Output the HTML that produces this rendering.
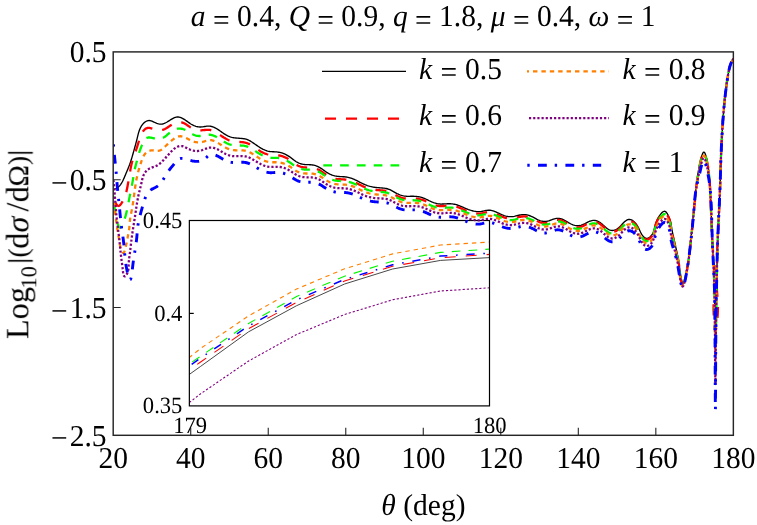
<!DOCTYPE html>
<html><head><meta charset="utf-8"><title>plot</title>
<style>html,body{margin:0;padding:0;background:#fff;overflow:hidden;}svg{display:block;}text{font-family:"Liberation Serif",serif;fill:#000;text-rendering:geometricPrecision;}.i{font-style:italic;}</style></head><body>
<svg width="757" height="525" viewBox="0 0 757 525">
<rect x="0" y="0" width="757" height="525" fill="#fff"/>
<clipPath id="ci"><rect x="189.35" y="220.5" width="300.15" height="185.39999999999998"/></clipPath>
<g clip-path="url(#ci)" fill="none" stroke-linecap="butt" stroke-linejoin="round">
<path d="M189.35,374.40 L200.60,366.40 L248.60,331.80 L296.60,305.70 L344.60,284.00 L392.60,269.00 L440.60,260.40 L489.50,257.60" stroke="#333" stroke-width="0.9"/>
<path d="M189.35,369.80 L200.60,362.00 L248.60,328.60 L296.60,302.40 L344.60,281.00 L392.60,266.30 L440.60,257.80 L489.50,254.40" stroke="#ff0000" stroke-width="1.1" stroke-dasharray="11 10" stroke-dashoffset="11.5"/>
<path d="M189.35,363.90 L200.60,356.20 L248.60,323.40 L296.60,296.50 L344.60,276.20 L392.60,261.20 L440.60,252.40 L489.50,249.10" stroke="#00f600" stroke-width="1.1" stroke-dasharray="8.7 8.1" stroke-dashoffset="13.2"/>
<path d="M189.35,357.50 L200.60,348.40 L248.60,315.90 L296.60,289.00 L344.60,268.80 L392.60,253.90 L440.60,245.00 L489.50,242.10" stroke="#ff8000" stroke-width="1.1" stroke-dasharray="4.4 4" stroke-dashoffset="0.82"/>
<path d="M189.35,402.50 L200.60,393.80 L248.60,361.00 L296.60,334.50 L344.60,314.50 L392.60,299.80 L440.60,291.00 L489.50,287.80" stroke="#800080" stroke-width="1.1" stroke-dasharray="2.2 1.97" stroke-dashoffset="0"/>
<path d="M189.35,365.90 L200.60,358.00 L248.60,326.00 L296.60,299.80 L344.60,279.40 L392.60,264.80 L440.60,256.10 L489.50,253.20" stroke="#0000ff" stroke-width="1.5" stroke-dasharray="8.2 8.7 1.6 8.8" stroke-dashoffset="24.48"/>
</g>
<rect x="189.35" y="220.5" width="300.15" height="185.39999999999998" fill="none" stroke="#000" stroke-width="1.2"/>
<path d="M189.35,313.4 h4.4" stroke="#000" stroke-width="1.2"/>
<clipPath id="cm"><rect x="113.2" y="51.9" width="620.15" height="383.40000000000003"/></clipPath>
<g clip-path="url(#cm)" fill="none" stroke-linecap="butt" stroke-linejoin="round">
<path d="M113.30,189.50 L114.27,189.26 L115.22,188.94 L116.14,188.53 L117.02,188.04 L117.86,187.48 L118.63,186.84 L119.35,186.14 L120.00,185.39 L120.60,184.58 L121.16,183.74 L121.68,182.88 L122.17,182.00 L122.63,181.10 L123.08,180.21 L123.51,179.30 L123.93,178.39 L124.33,177.48 L124.72,176.56 L125.11,175.63 L125.50,174.71 L125.88,173.79 L126.27,172.86 L126.65,171.94 L127.04,171.02 L127.42,170.09 L127.80,169.17 L128.18,168.24 L128.56,167.31 L128.92,166.38 L129.28,165.44 L129.64,164.51 L129.98,163.56 L130.31,162.62 L130.63,161.67 L130.94,160.72 L131.24,159.76 L131.54,158.81 L131.83,157.85 L132.11,156.89 L132.39,155.93 L132.66,154.96 L132.94,154.00 L133.21,153.04 L133.48,152.07 L133.75,151.11 L134.02,150.15 L134.29,149.19 L134.56,148.22 L134.83,147.26 L135.09,146.30 L135.36,145.34 L135.62,144.37 L135.88,143.40 L136.13,142.43 L136.39,141.46 L136.63,140.49 L136.88,139.51 L137.11,138.53 L137.35,137.55 L137.58,136.57 L137.82,135.58 L138.07,134.60 L138.33,133.63 L138.60,132.66 L138.90,131.70 L139.21,130.76 L139.56,129.82 L139.94,128.90 L140.35,127.99 L140.80,127.11 L141.30,126.24 L141.84,125.40 L142.44,124.59 L143.08,123.82 L143.79,123.09 L144.56,122.41 L145.39,121.79 L146.28,121.25 L147.21,120.83 L148.15,120.56 L149.11,120.48 L150.07,120.58 L151.03,120.82 L151.99,121.18 L152.95,121.60 L153.91,122.06 L154.87,122.51 L155.83,122.95 L156.79,123.34 L157.75,123.68 L158.70,123.95 L159.65,124.13 L160.60,124.20 L161.55,124.15 L162.49,123.99 L163.42,123.73 L164.35,123.39 L165.28,122.97 L166.21,122.49 L167.13,121.97 L168.05,121.41 L168.97,120.83 L169.88,120.24 L170.79,119.66 L171.70,119.11 L172.62,118.59 L173.53,118.11 L174.45,117.71 L175.37,117.38 L176.30,117.14 L177.23,117.01 L178.17,117.01 L179.11,117.13 L180.06,117.37 L181.01,117.70 L181.95,118.11 L182.87,118.59 L183.78,119.12 L184.67,119.68 L185.53,120.25 L186.37,120.84 L187.19,121.42 L188.01,122.01 L188.82,122.59 L189.63,123.15 L190.45,123.70 L191.29,124.22 L192.15,124.71 L193.04,125.17 L193.95,125.59 L194.89,125.96 L195.86,126.28 L196.84,126.55 L197.83,126.76 L198.83,126.91 L199.84,126.99 L200.84,127.00 L201.85,126.93 L202.85,126.82 L203.85,126.66 L204.84,126.50 L205.84,126.34 L206.83,126.20 L207.82,126.11 L208.81,126.08 L209.80,126.14 L210.78,126.29 L211.76,126.51 L212.72,126.81 L213.67,127.17 L214.61,127.58 L215.52,128.04 L216.41,128.53 L217.27,129.05 L218.11,129.59 L218.94,130.15 L219.76,130.72 L220.57,131.30 L221.38,131.89 L222.20,132.47 L223.02,133.04 L223.85,133.60 L224.70,134.14 L225.56,134.67 L226.44,135.17 L227.34,135.63 L228.25,136.07 L229.17,136.47 L230.11,136.83 L231.06,137.14 L232.02,137.40 L232.99,137.62 L233.97,137.79 L234.95,137.92 L235.95,138.02 L236.95,138.10 L237.96,138.17 L238.96,138.23 L239.97,138.30 L240.99,138.37 L241.99,138.46 L242.99,138.58 L243.99,138.73 L244.97,138.92 L245.93,139.16 L246.88,139.46 L247.81,139.82 L248.72,140.23 L249.61,140.69 L250.48,141.18 L251.35,141.71 L252.20,142.26 L253.04,142.82 L253.87,143.39 L254.69,143.96 L255.52,144.54 L256.34,145.11 L257.16,145.67 L257.99,146.23 L258.82,146.78 L259.66,147.32 L260.52,147.84 L261.39,148.35 L262.27,148.83 L263.17,149.30 L264.08,149.73 L265.01,150.13 L265.95,150.49 L266.90,150.81 L267.87,151.09 L268.84,151.31 L269.82,151.48 L270.81,151.60 L271.80,151.69 L272.80,151.74 L273.81,151.78 L274.81,151.83 L275.81,151.88 L276.82,151.95 L277.81,152.06 L278.81,152.21 L279.80,152.40 L280.77,152.63 L281.74,152.90 L282.70,153.21 L283.64,153.56 L284.56,153.94 L285.47,154.36 L286.37,154.81 L287.25,155.30 L288.11,155.81 L288.96,156.35 L289.79,156.92 L290.60,157.50 L291.41,158.11 L292.20,158.73 L292.98,159.36 L293.77,159.98 L294.57,160.58 L295.38,161.16 L296.22,161.71 L297.08,162.21 L297.97,162.67 L298.89,163.08 L299.84,163.44 L300.80,163.74 L301.77,164.00 L302.76,164.21 L303.75,164.36 L304.75,164.47 L305.75,164.55 L306.75,164.60 L307.75,164.63 L308.76,164.67 L309.76,164.71 L310.76,164.77 L311.75,164.87 L312.74,165.01 L313.73,165.20 L314.70,165.44 L315.67,165.72 L316.62,166.06 L317.55,166.44 L318.46,166.87 L319.35,167.33 L320.22,167.83 L321.06,168.36 L321.89,168.92 L322.71,169.49 L323.52,170.08 L324.33,170.67 L325.15,171.25 L325.97,171.83 L326.81,172.39 L327.66,172.92 L328.53,173.43 L329.42,173.90 L330.33,174.34 L331.26,174.75 L332.20,175.11 L333.15,175.44 L334.11,175.72 L335.08,175.95 L336.06,176.14 L337.05,176.29 L338.04,176.40 L339.04,176.48 L340.04,176.55 L341.04,176.60 L342.04,176.66 L343.05,176.72 L344.05,176.79 L345.05,176.88 L346.04,177.01 L347.03,177.17 L348.02,177.36 L348.99,177.59 L349.96,177.85 L350.92,178.14 L351.88,178.47 L352.82,178.82 L353.75,179.19 L354.67,179.59 L355.57,180.02 L356.47,180.45 L357.36,180.90 L358.25,181.36 L359.14,181.83 L360.03,182.29 L360.92,182.75 L361.81,183.21 L362.72,183.65 L363.63,184.07 L364.55,184.48 L365.47,184.87 L366.41,185.24 L367.35,185.59 L368.30,185.91 L369.25,186.20 L370.22,186.46 L371.19,186.68 L372.16,186.88 L373.14,187.06 L374.13,187.21 L375.12,187.34 L376.12,187.46 L377.12,187.56 L378.12,187.65 L379.13,187.73 L380.14,187.81 L381.15,187.89 L382.16,187.97 L383.17,188.07 L384.17,188.19 L385.16,188.33 L386.14,188.51 L387.11,188.74 L388.05,189.02 L388.98,189.35 L389.90,189.73 L390.80,190.15 L391.69,190.61 L392.57,191.08 L393.45,191.58 L394.33,192.08 L395.22,192.57 L396.11,193.06 L397.01,193.53 L397.93,193.98 L398.85,194.40 L399.78,194.78 L400.72,195.13 L401.67,195.45 L402.63,195.71 L403.60,195.93 L404.58,196.09 L405.56,196.20 L406.55,196.27 L407.55,196.30 L408.55,196.31 L409.55,196.30 L410.56,196.28 L411.57,196.27 L412.58,196.26 L413.59,196.26 L414.60,196.30 L415.60,196.36 L416.61,196.46 L417.61,196.59 L418.60,196.76 L419.59,196.96 L420.57,197.19 L421.53,197.46 L422.49,197.75 L423.44,198.08 L424.37,198.45 L425.29,198.84 L426.20,199.25 L427.10,199.68 L428.00,200.12 L428.89,200.57 L429.80,201.00 L430.70,201.43 L431.62,201.84 L432.55,202.22 L433.50,202.58 L434.45,202.91 L435.42,203.19 L436.40,203.45 L437.38,203.66 L438.37,203.83 L439.36,203.95 L440.35,204.02 L441.35,204.05 L442.35,204.03 L443.35,203.99 L444.35,203.93 L445.35,203.87 L446.35,203.80 L447.36,203.74 L448.36,203.71 L449.36,203.70 L450.37,203.73 L451.37,203.80 L452.37,203.91 L453.36,204.06 L454.35,204.24 L455.34,204.45 L456.31,204.70 L457.27,204.99 L458.22,205.31 L459.16,205.65 L460.09,206.02 L461.01,206.41 L461.93,206.81 L462.84,207.22 L463.76,207.63 L464.68,208.03 L465.60,208.43 L466.52,208.81 L467.46,209.18 L468.39,209.53 L469.34,209.86 L470.29,210.18 L471.25,210.47 L472.22,210.73 L473.19,210.97 L474.18,211.19 L475.17,211.37 L476.17,211.51 L477.17,211.61 L478.17,211.66 L479.17,211.65 L480.17,211.58 L481.17,211.45 L482.16,211.28 L483.15,211.07 L484.14,210.85 L485.12,210.64 L486.11,210.45 L487.09,210.31 L488.08,210.22 L489.06,210.20 L490.05,210.27 L491.03,210.42 L492.01,210.63 L492.99,210.89 L493.95,211.21 L494.91,211.56 L495.86,211.94 L496.80,212.34 L497.73,212.76 L498.64,213.18 L499.55,213.61 L500.46,214.02 L501.37,214.43 L502.29,214.82 L503.21,215.18 L504.15,215.52 L505.11,215.82 L506.08,216.09 L507.07,216.31 L508.07,216.48 L509.07,216.61 L510.08,216.68 L511.09,216.70 L512.09,216.66 L513.08,216.55 L514.06,216.39 L515.04,216.19 L516.01,215.96 L516.99,215.71 L517.96,215.46 L518.94,215.23 L519.92,215.02 L520.91,214.84 L521.91,214.72 L522.92,214.65 L523.92,214.63 L524.92,214.67 L525.91,214.77 L526.89,214.94 L527.87,215.16 L528.83,215.43 L529.79,215.75 L530.73,216.12 L531.66,216.51 L532.58,216.94 L533.50,217.40 L534.40,217.88 L535.29,218.36 L536.18,218.84 L537.07,219.31 L537.97,219.76 L538.88,220.17 L539.80,220.54 L540.74,220.85 L541.70,221.09 L542.68,221.26 L543.68,221.37 L544.69,221.39 L545.71,221.35 L546.72,221.24 L547.72,221.06 L548.71,220.82 L549.69,220.51 L550.65,220.17 L551.61,219.82 L552.56,219.46 L553.51,219.12 L554.46,218.81 L555.41,218.56 L556.38,218.39 L557.35,218.30 L558.33,218.31 L559.31,218.43 L560.30,218.63 L561.28,218.90 L562.25,219.24 L563.20,219.63 L564.13,220.06 L565.03,220.53 L565.91,221.02 L566.77,221.53 L567.63,222.04 L568.48,222.55 L569.34,223.05 L570.22,223.53 L571.11,223.99 L572.02,224.41 L572.97,224.79 L573.94,225.11 L574.92,225.38 L575.92,225.57 L576.92,225.69 L577.92,225.73 L578.90,225.68 L579.87,225.54 L580.83,225.31 L581.77,225.01 L582.71,224.65 L583.64,224.24 L584.56,223.80 L585.48,223.33 L586.40,222.86 L587.32,222.38 L588.24,221.92 L589.17,221.49 L590.11,221.11 L591.06,220.79 L592.02,220.56 L592.99,220.42 L593.99,220.40 L594.99,220.49 L595.99,220.68 L596.97,220.96 L597.92,221.33 L598.83,221.77 L599.68,222.27 L600.50,222.82 L601.28,223.42 L602.04,224.05 L602.79,224.72 L603.53,225.40 L604.29,226.09 L605.06,226.78 L605.85,227.47 L606.68,228.14 L607.53,228.76 L608.41,229.32 L609.31,229.79 L610.23,230.16 L611.18,230.41 L612.13,230.50 L613.10,230.45 L614.08,230.25 L615.04,229.93 L615.99,229.50 L616.91,228.99 L617.78,228.41 L618.61,227.77 L619.38,227.11 L620.10,226.42 L620.78,225.72 L621.45,224.99 L622.11,224.26 L622.79,223.53 L623.50,222.79 L624.25,222.06 L625.06,221.35 L625.90,220.70 L626.79,220.15 L627.70,219.72 L628.63,219.46 L629.58,219.41 L630.53,219.57 L631.46,219.91 L632.37,220.40 L633.25,221.01 L634.07,221.70 L634.82,222.43 L635.51,223.17 L636.12,223.94 L636.69,224.72 L637.21,225.53 L637.70,226.36 L638.16,227.22 L638.61,228.11 L639.06,229.04 L639.52,230.00 L640.00,231.00 L640.50,232.03 L641.04,233.07 L641.62,234.10 L642.23,235.08 L642.87,235.98 L643.56,236.77 L644.30,237.43 L645.08,237.93 L645.91,238.22 L646.79,238.30 L647.71,238.13 L648.65,237.76 L649.56,237.22 L650.41,236.57 L651.16,235.82 L651.81,235.02 L652.36,234.17 L652.83,233.27 L653.22,232.34 L653.57,231.38 L653.86,230.41 L654.12,229.42 L654.36,228.44 L654.59,227.46 L654.82,226.50 L655.06,225.56 L655.32,224.64 L655.59,223.72 L655.89,222.82 L656.22,221.92 L656.57,221.03 L656.97,220.14 L657.40,219.24 L657.87,218.34 L658.40,217.42 L658.97,216.50 L659.60,215.56 L660.30,214.60 L661.04,213.65 L661.83,212.78 L662.64,212.05 L663.46,211.53 L664.26,211.29 L665.04,211.39 L665.78,211.84 L666.47,212.56 L667.12,213.46 L667.72,214.47 L668.26,215.50 L668.74,216.52 L669.17,217.52 L669.55,218.51 L669.89,219.49 L670.18,220.45 L670.45,221.41 L670.68,222.36 L670.89,223.31 L671.08,224.25 L671.26,225.20 L671.42,226.14 L671.57,227.09 L671.73,228.04 L671.88,229.00 L672.05,229.97 L672.22,230.94 L672.40,231.92 L672.59,232.91 L672.79,233.91 L672.99,234.91 L673.20,235.91 L673.41,236.90 L673.63,237.90 L673.85,238.90 L674.08,239.89 L674.30,240.87 L674.53,241.85 L674.75,242.82 L674.98,243.77 L675.20,244.72 L675.42,245.65 L675.63,246.57 L675.84,247.47 L676.05,248.36 L676.26,249.25 L676.46,250.13 L676.65,251.01 L676.85,251.90 L677.04,252.79 L677.23,253.69 L677.42,254.61 L677.61,255.54 L677.79,256.49 L677.98,257.46 L678.16,258.46 L678.35,259.50 L678.53,260.56 L678.71,261.66 L678.89,262.80 L679.08,263.99 L679.26,265.22 L679.44,266.50 L679.63,267.82 L679.82,269.17 L680.01,270.52 L680.20,271.88 L680.39,273.21 L680.59,274.52 L680.79,275.78 L680.99,276.97 L681.20,278.10 L681.41,279.13 L681.63,280.06 L681.85,280.88 L682.08,281.56 L682.31,282.10 L682.55,282.47 L682.80,282.67 L683.05,282.69 L683.31,282.50 L683.58,282.14 L683.85,281.61 L684.12,280.93 L684.39,280.12 L684.67,279.18 L684.95,278.15 L685.22,277.02 L685.49,275.82 L685.76,274.57 L686.02,273.28 L686.28,271.96 L686.53,270.63 L686.77,269.31 L687.00,268.02 L687.22,266.75 L687.43,265.52 L687.62,264.33 L687.81,263.17 L687.99,262.04 L688.17,260.94 L688.33,259.86 L688.48,258.81 L688.63,257.79 L688.77,256.78 L688.91,255.80 L689.04,254.83 L689.16,253.89 L689.28,252.95 L689.39,252.03 L689.50,251.12 L689.61,250.21 L689.71,249.32 L689.81,248.43 L689.91,247.54 L690.01,246.66 L690.10,245.77 L690.20,244.88 L690.29,243.99 L690.38,243.10 L690.48,242.20 L690.58,241.28 L690.67,240.36 L690.77,239.43 L690.87,238.50 L690.97,237.55 L691.07,236.60 L691.17,235.63 L691.27,234.67 L691.37,233.69 L691.48,232.71 L691.58,231.72 L691.69,230.73 L691.79,229.73 L691.90,228.72 L692.00,227.71 L692.11,226.70 L692.21,225.68 L692.32,224.66 L692.42,223.63 L692.53,222.60 L692.64,221.57 L692.74,220.54 L692.85,219.50 L692.95,218.46 L693.06,217.42 L693.16,216.38 L693.27,215.34 L693.37,214.30 L693.47,213.26 L693.58,212.22 L693.68,211.18 L693.78,210.14 L693.88,209.10 L693.98,208.06 L694.08,207.02 L694.18,205.99 L694.28,204.96 L694.38,203.94 L694.48,202.92 L694.58,201.90 L694.68,200.88 L694.78,199.88 L694.88,198.87 L694.98,197.88 L695.08,196.88 L695.17,195.90 L695.27,194.92 L695.37,193.95 L695.47,192.99 L695.57,192.03 L695.66,191.09 L695.76,190.15 L695.86,189.22 L695.96,188.30 L696.06,187.39 L696.16,186.49 L696.25,185.60 L696.35,184.72 L696.46,183.84 L696.56,182.97 L696.67,182.10 L696.78,181.22 L696.89,180.34 L697.01,179.45 L697.14,178.56 L697.27,177.65 L697.40,176.74 L697.55,175.80 L697.70,174.85 L697.86,173.88 L698.03,172.89 L698.21,171.88 L698.40,170.84 L698.61,169.77 L698.82,168.67 L699.04,167.54 L699.28,166.37 L699.53,165.17 L699.80,163.92 L700.08,162.64 L700.37,161.32 L700.68,159.99 L701.00,158.68 L701.33,157.42 L701.67,156.23 L702.02,155.14 L702.37,154.17 L702.72,153.36 L703.08,152.73 L703.44,152.30 L703.80,152.11 L704.15,152.17 L704.51,152.49 L704.86,153.02 L705.20,153.75 L705.53,154.65 L705.86,155.69 L706.17,156.84 L706.48,158.07 L706.77,159.37 L707.05,160.69 L707.31,162.02 L707.56,163.32 L707.79,164.58 L708.00,165.80 L708.20,166.98 L708.38,168.13 L708.55,169.24 L708.71,170.32 L708.85,171.37 L708.98,172.39 L709.10,173.38 L709.21,174.36 L709.31,175.31 L709.40,176.25 L709.48,177.17 L709.56,178.08 L709.62,178.98 L709.69,179.87 L709.74,180.75 L709.80,181.63 L709.85,182.52 L709.90,183.40 L709.94,184.28 L709.98,185.17 L710.03,186.07 L710.07,186.98 L710.11,187.90 L710.16,188.83 L710.20,189.77 L710.24,190.71 L710.28,191.66 L710.33,192.62 L710.37,193.59 L710.41,194.56 L710.45,195.54 L710.49,196.52 L710.53,197.51 L710.58,198.51 L710.62,199.51 L710.66,200.52 L710.70,201.53 L710.74,202.54 L710.78,203.56 L710.82,204.58 L710.86,205.61 L710.91,206.64 L710.95,207.67 L710.99,208.70 L711.03,209.74 L711.07,210.77 L711.11,211.81 L711.15,212.85 L711.19,213.89 L711.23,214.93 L711.27,215.97 L711.32,217.01 L711.36,218.05 L711.40,219.09 L711.44,220.13 L711.48,221.17 L711.52,222.20 L711.57,223.23 L711.61,224.26 L711.65,225.29 L711.69,226.31 L711.74,227.33 L711.78,228.35 L711.82,229.36 L711.86,230.37 L711.91,231.37 L711.95,232.37 L711.99,233.37 L712.04,234.35 L712.08,235.34 L712.13,236.31 L712.17,237.28 L712.22,238.24 L712.26,239.20 L712.31,240.14 L712.35,241.08 L712.40,242.02 L712.44,242.94 L712.49,243.86 L712.54,244.78 L712.58,245.69 L712.63,246.60 L712.68,247.50 L712.73,248.41 L712.77,249.31 L712.82,250.21 L712.87,251.11 L712.92,252.01 L712.96,252.91 L713.01,253.81 L713.06,254.72 L713.10,255.63 L713.15,256.54 L713.20,257.46 L713.25,258.38 L713.29,259.31 L713.34,260.25 L713.39,261.19 L713.43,262.15 L713.48,263.11 L713.52,264.08 L713.57,265.06 L713.61,266.05 L713.66,267.05 L713.70,268.06 L713.75,269.09 L713.79,270.13 L713.83,271.19 L713.87,272.26 L713.92,273.34 L713.96,274.44 L714.00,275.56 L714.04,276.70 L714.08,277.85 L714.12,279.03 L714.16,280.22 L714.20,281.44 L714.23,282.67 L714.27,283.93 L714.31,285.21 L714.34,286.51 L714.38,287.83 L714.41,289.17 L714.44,290.52 L714.48,291.88 L714.51,293.25 L714.54,294.62 L714.57,295.99 L714.60,297.36 L714.63,298.72 L714.66,300.08 L714.69,301.42 L714.72,302.75 L714.75,304.06 L714.78,305.35 L714.81,306.61 L714.84,307.85 L714.86,309.05 L714.89,310.23 L714.92,311.36 L714.95,312.46 L714.97,313.51 L715.00,314.52 L715.03,315.47 L715.06,316.38 L715.09,317.23 L715.11,318.02 L715.14,318.74 L715.17,319.41 L715.20,320.00 L715.23,320.53 L715.26,320.98 L715.29,321.35 L715.31,321.64 L715.34,321.85 L715.38,321.97 L715.41,322.00 L715.44,321.94 L715.47,321.79 L715.50,321.55 L715.53,321.24 L715.57,320.84 L715.60,320.36 L715.63,319.82 L715.67,319.20 L715.70,318.51 L715.73,317.77 L715.77,316.96 L715.80,316.09 L715.84,315.17 L715.87,314.19 L715.90,313.17 L715.94,312.11 L715.97,311.00 L716.01,309.85 L716.04,308.66 L716.08,307.45 L716.11,306.20 L716.14,304.92 L716.18,303.63 L716.21,302.31 L716.24,300.97 L716.28,299.62 L716.31,298.26 L716.34,296.89 L716.37,295.52 L716.40,294.14 L716.43,292.77 L716.46,291.40 L716.49,290.04 L716.52,288.69 L716.55,287.35 L716.58,286.03 L716.61,284.73 L716.63,283.45 L716.66,282.19 L716.68,280.95 L716.71,279.74 L716.73,278.54 L716.76,277.36 L716.78,276.20 L716.80,275.06 L716.83,273.94 L716.85,272.83 L716.87,271.74 L716.89,270.67 L716.91,269.61 L716.93,268.56 L716.96,267.53 L716.98,266.51 L717.00,265.50 L717.02,264.50 L717.04,263.52 L717.06,262.54 L717.08,261.58 L717.10,260.63 L717.12,259.68 L717.15,258.74 L717.17,257.81 L717.19,256.88 L717.21,255.97 L717.23,255.05 L717.26,254.14 L717.28,253.24 L717.31,252.34 L717.33,251.44 L717.35,250.55 L717.38,249.65 L717.41,248.76 L717.43,247.87 L717.46,246.98 L717.49,246.09 L717.52,245.19 L717.55,244.30 L717.58,243.40 L717.61,242.50 L717.64,241.59 L717.67,240.68 L717.71,239.77 L717.74,238.85 L717.78,237.92 L717.82,236.99 L717.85,236.06 L717.89,235.12 L717.93,234.17 L717.97,233.22 L718.01,232.27 L718.06,231.31 L718.10,230.34 L718.14,229.38 L718.19,228.40 L718.23,227.43 L718.27,226.45 L718.32,225.47 L718.37,224.48 L718.41,223.49 L718.46,222.50 L718.51,221.50 L718.55,220.50 L718.60,219.50 L718.65,218.50 L718.70,217.49 L718.74,216.48 L718.79,215.47 L718.84,214.45 L718.89,213.44 L718.94,212.42 L718.99,211.40 L719.03,210.38 L719.08,209.36 L719.13,208.33 L719.18,207.31 L719.23,206.28 L719.27,205.25 L719.32,204.23 L719.37,203.20 L719.42,202.17 L719.46,201.14 L719.51,200.11 L719.55,199.08 L719.60,198.05 L719.64,197.02 L719.69,195.99 L719.73,194.96 L719.77,193.93 L719.82,192.91 L719.86,191.88 L719.90,190.85 L719.94,189.83 L719.98,188.80 L720.02,187.78 L720.05,186.76 L720.09,185.74 L720.13,184.73 L720.16,183.71 L720.20,182.70 L720.23,181.68 L720.26,180.67 L720.29,179.66 L720.33,178.65 L720.36,177.65 L720.39,176.64 L720.42,175.64 L720.45,174.63 L720.48,173.63 L720.51,172.63 L720.53,171.63 L720.56,170.63 L720.59,169.63 L720.62,168.64 L720.65,167.64 L720.68,166.64 L720.71,165.65 L720.74,164.65 L720.77,163.65 L720.80,162.66 L720.83,161.66 L720.86,160.67 L720.90,159.68 L720.93,158.68 L720.96,157.69 L721.00,156.69 L721.03,155.70 L721.07,154.70 L721.11,153.71 L721.14,152.71 L721.18,151.71 L721.22,150.72 L721.27,149.72 L721.31,148.72 L721.35,147.72 L721.40,146.73 L721.44,145.73 L721.49,144.73 L721.54,143.73 L721.59,142.73 L721.64,141.73 L721.69,140.73 L721.74,139.73 L721.80,138.73 L721.85,137.73 L721.91,136.72 L721.96,135.72 L722.02,134.72 L722.08,133.72 L722.14,132.72 L722.20,131.72 L722.26,130.72 L722.32,129.72 L722.38,128.72 L722.44,127.72 L722.50,126.72 L722.57,125.72 L722.63,124.72 L722.70,123.72 L722.77,122.72 L722.84,121.72 L722.91,120.72 L722.98,119.73 L723.05,118.73 L723.12,117.73 L723.20,116.73 L723.27,115.73 L723.35,114.73 L723.43,113.74 L723.51,112.74 L723.59,111.74 L723.68,110.74 L723.76,109.75 L723.85,108.75 L723.94,107.75 L724.03,106.76 L724.12,105.76 L724.22,104.76 L724.31,103.77 L724.41,102.77 L724.51,101.77 L724.62,100.78 L724.72,99.78 L724.83,98.78 L724.94,97.79 L725.05,96.79 L725.17,95.80 L725.28,94.80 L725.40,93.81 L725.52,92.81 L725.65,91.82 L725.77,90.82 L725.90,89.83 L726.02,88.84 L726.15,87.85 L726.28,86.85 L726.42,85.86 L726.55,84.87 L726.68,83.88 L726.82,82.90 L726.96,81.91 L727.10,80.92 L727.25,79.93 L727.40,78.95 L727.55,77.96 L727.71,76.97 L727.87,75.98 L728.04,75.00 L728.22,74.01 L728.40,73.02 L728.59,72.03 L728.79,71.04 L728.99,70.05 L729.21,69.06 L729.44,68.08 L729.70,67.10 L729.97,66.13 L730.27,65.17 L730.60,64.22 L730.97,63.29 L731.38,62.38 L731.84,61.50 L732.34,60.64 L732.89,59.80 L733.50,59.00" stroke="#000000" stroke-width="1.35"/>
<path d="M113.30,193.00 L113.29,193.17 L113.34,193.68 L113.46,194.48 L113.64,195.50 L113.88,196.70 L114.18,198.01 L114.52,199.39 L114.93,200.77 L115.38,202.10 L115.88,203.32 L116.43,204.38 L117.02,205.21 L117.65,205.77 L118.32,206.00 L119.02,205.85 L119.75,205.36 L120.48,204.62 L121.19,203.71 L121.87,202.71 L122.48,201.71 L123.05,200.73 L123.56,199.77 L124.01,198.82 L124.43,197.89 L124.80,196.96 L125.14,196.04 L125.45,195.13 L125.72,194.22 L125.98,193.31 L126.21,192.39 L126.43,191.47 L126.64,190.55 L126.85,189.62 L127.05,188.67 L127.24,187.72 L127.43,186.76 L127.62,185.79 L127.80,184.81 L127.98,183.83 L128.16,182.84 L128.33,181.85 L128.51,180.86 L128.68,179.86 L128.85,178.86 L129.02,177.86 L129.18,176.85 L129.35,175.85 L129.52,174.84 L129.69,173.84 L129.86,172.84 L130.03,171.84 L130.20,170.85 L130.37,169.86 L130.55,168.87 L130.74,167.88 L130.93,166.90 L131.13,165.92 L131.35,164.95 L131.57,163.98 L131.81,163.01 L132.07,162.04 L132.34,161.08 L132.63,160.13 L132.93,159.17 L133.24,158.22 L133.56,157.27 L133.88,156.32 L134.21,155.38 L134.55,154.43 L134.88,153.49 L135.22,152.54 L135.55,151.60 L135.88,150.65 L136.20,149.70 L136.52,148.75 L136.83,147.80 L137.14,146.85 L137.44,145.89 L137.73,144.94 L138.03,143.98 L138.31,143.02 L138.60,142.06 L138.88,141.09 L139.16,140.13 L139.44,139.17 L139.74,138.21 L140.06,137.26 L140.40,136.32 L140.77,135.39 L141.18,134.47 L141.63,133.57 L142.13,132.69 L142.68,131.84 L143.30,131.00 L143.97,130.20 L144.72,129.47 L145.52,128.83 L146.38,128.33 L147.30,128.00 L148.27,127.87 L149.27,127.90 L150.29,128.06 L151.29,128.30 L152.28,128.57 L153.24,128.87 L154.19,129.16 L155.14,129.45 L156.10,129.70 L157.08,129.91 L158.08,130.07 L159.10,130.16 L160.12,130.17 L161.13,130.12 L162.13,129.98 L163.10,129.76 L164.02,129.45 L164.91,129.06 L165.78,128.60 L166.62,128.08 L167.46,127.53 L168.29,126.95 L169.13,126.36 L169.98,125.77 L170.87,125.20 L171.78,124.65 L172.71,124.13 L173.67,123.66 L174.64,123.24 L175.63,122.88 L176.62,122.58 L177.61,122.36 L178.59,122.21 L179.57,122.15 L180.53,122.19 L181.47,122.33 L182.39,122.58 L183.29,122.92 L184.17,123.33 L185.05,123.81 L185.91,124.33 L186.78,124.89 L187.64,125.47 L188.51,126.05 L189.38,126.62 L190.27,127.16 L191.18,127.67 L192.09,128.15 L193.03,128.58 L193.97,128.97 L194.92,129.31 L195.89,129.61 L196.86,129.85 L197.84,130.05 L198.83,130.19 L199.82,130.27 L200.82,130.30 L201.82,130.27 L202.83,130.20 L203.83,130.10 L204.84,130.00 L205.84,129.90 L206.84,129.84 L207.84,129.82 L208.83,129.85 L209.81,129.97 L210.79,130.17 L211.75,130.44 L212.70,130.78 L213.63,131.17 L214.55,131.61 L215.45,132.08 L216.33,132.58 L217.20,133.11 L218.04,133.65 L218.88,134.20 L219.70,134.76 L220.52,135.33 L221.34,135.89 L222.17,136.46 L223.00,137.01 L223.84,137.56 L224.70,138.09 L225.57,138.60 L226.46,139.08 L227.36,139.54 L228.28,139.96 L229.21,140.35 L230.15,140.69 L231.10,140.99 L232.06,141.24 L233.03,141.44 L234.02,141.59 L235.01,141.71 L236.01,141.79 L237.01,141.85 L238.01,141.91 L239.02,141.95 L240.04,142.00 L241.05,142.06 L242.06,142.14 L243.06,142.25 L244.05,142.39 L245.03,142.58 L246.00,142.81 L246.95,143.11 L247.88,143.46 L248.79,143.87 L249.68,144.32 L250.56,144.81 L251.43,145.33 L252.28,145.87 L253.13,146.43 L253.96,147.00 L254.79,147.56 L255.62,148.13 L256.44,148.69 L257.27,149.25 L258.10,149.80 L258.94,150.35 L259.79,150.87 L260.65,151.39 L261.53,151.88 L262.42,152.36 L263.32,152.80 L264.24,153.22 L265.18,153.61 L266.12,153.95 L267.08,154.26 L268.05,154.51 L269.03,154.72 L270.01,154.87 L271.00,154.97 L272.00,155.03 L273.00,155.07 L274.00,155.10 L275.01,155.13 L276.01,155.17 L277.01,155.24 L278.01,155.35 L279.01,155.49 L280.00,155.68 L280.97,155.90 L281.94,156.17 L282.90,156.47 L283.84,156.82 L284.77,157.20 L285.68,157.61 L286.57,158.07 L287.45,158.55 L288.32,159.06 L289.17,159.60 L290.00,160.16 L290.82,160.75 L291.62,161.35 L292.42,161.97 L293.21,162.58 L294.01,163.19 L294.81,163.79 L295.64,164.35 L296.48,164.88 L297.36,165.36 L298.27,165.80 L299.20,166.18 L300.15,166.52 L301.12,166.80 L302.10,167.04 L303.09,167.22 L304.08,167.35 L305.08,167.44 L306.08,167.49 L307.08,167.53 L308.09,167.56 L309.09,167.58 L310.09,167.63 L311.09,167.69 L312.08,167.79 L313.07,167.94 L314.06,168.14 L315.03,168.39 L315.99,168.68 L316.94,169.03 L317.87,169.42 L318.78,169.85 L319.66,170.32 L320.52,170.83 L321.36,171.37 L322.19,171.93 L323.01,172.50 L323.82,173.09 L324.64,173.67 L325.46,174.25 L326.29,174.81 L327.13,175.36 L328.00,175.88 L328.88,176.36 L329.78,176.82 L330.70,177.24 L331.63,177.62 L332.58,177.97 L333.54,178.27 L334.51,178.52 L335.48,178.73 L336.47,178.90 L337.46,179.02 L338.45,179.12 L339.45,179.19 L340.45,179.24 L341.45,179.29 L342.46,179.34 L343.46,179.40 L344.46,179.48 L345.46,179.58 L346.45,179.71 L347.44,179.88 L348.43,180.09 L349.40,180.32 L350.37,180.59 L351.33,180.90 L352.28,181.23 L353.21,181.58 L354.14,181.97 L355.06,182.37 L355.96,182.80 L356.86,183.24 L357.75,183.69 L358.64,184.15 L359.53,184.61 L360.42,185.07 L361.31,185.52 L362.21,185.97 L363.12,186.40 L364.04,186.82 L364.96,187.21 L365.89,187.59 L366.83,187.94 L367.78,188.27 L368.73,188.57 L369.69,188.85 L370.66,189.09 L371.63,189.30 L372.61,189.48 L373.60,189.64 L374.59,189.77 L375.58,189.89 L376.58,189.99 L377.59,190.08 L378.59,190.16 L379.60,190.23 L380.61,190.30 L381.62,190.38 L382.63,190.46 L383.64,190.56 L384.64,190.68 L385.63,190.83 L386.60,191.03 L387.56,191.27 L388.50,191.57 L389.42,191.92 L390.33,192.31 L391.23,192.75 L392.12,193.21 L393.00,193.69 L393.89,194.18 L394.77,194.68 L395.66,195.16 L396.57,195.64 L397.48,196.09 L398.40,196.52 L399.33,196.92 L400.27,197.28 L401.21,197.60 L402.17,197.89 L403.14,198.12 L404.11,198.30 L405.09,198.43 L406.08,198.51 L407.07,198.55 L408.07,198.56 L409.07,198.55 L410.08,198.53 L411.09,198.50 L412.10,198.48 L413.11,198.47 L414.12,198.48 L415.13,198.52 L416.13,198.60 L417.13,198.71 L418.13,198.86 L419.12,199.04 L420.11,199.25 L421.08,199.50 L422.04,199.77 L423.00,200.09 L423.94,200.43 L424.86,200.81 L425.78,201.21 L426.68,201.63 L427.58,202.06 L428.48,202.50 L429.39,202.93 L430.29,203.36 L431.21,203.78 L432.13,204.17 L433.07,204.54 L434.03,204.87 L434.99,205.17 L435.96,205.43 L436.94,205.66 L437.93,205.84 L438.92,205.98 L439.92,206.07 L440.91,206.11 L441.91,206.11 L442.91,206.07 L443.91,206.02 L444.91,205.95 L445.91,205.87 L446.91,205.81 L447.92,205.75 L448.92,205.73 L449.92,205.74 L450.93,205.79 L451.93,205.87 L452.93,206.00 L453.92,206.16 L454.91,206.36 L455.88,206.59 L456.85,206.86 L457.81,207.16 L458.75,207.49 L459.68,207.85 L460.61,208.23 L461.53,208.62 L462.45,209.03 L463.36,209.43 L464.28,209.84 L465.20,210.24 L466.13,210.63 L467.06,211.00 L467.99,211.36 L468.93,211.70 L469.88,212.02 L470.84,212.31 L471.80,212.59 L472.78,212.84 L473.76,213.07 L474.75,213.26 L475.74,213.42 L476.74,213.53 L477.74,213.60 L478.75,213.62 L479.75,213.57 L480.74,213.47 L481.74,213.30 L482.73,213.11 L483.72,212.89 L484.70,212.67 L485.69,212.47 L486.67,212.30 L487.66,212.18 L488.64,212.14 L489.63,212.17 L490.61,212.28 L491.59,212.46 L492.57,212.70 L493.54,212.99 L494.51,213.33 L495.46,213.70 L496.41,214.09 L497.34,214.50 L498.26,214.92 L499.17,215.34 L500.08,215.76 L500.99,216.17 L501.90,216.57 L502.82,216.94 L503.76,217.29 L504.71,217.61 L505.68,217.88 L506.66,218.12 L507.65,218.31 L508.66,218.45 L509.66,218.54 L510.67,218.57 L511.67,218.55 L512.67,218.47 L513.66,218.33 L514.64,218.14 L515.61,217.91 L516.58,217.66 L517.55,217.41 L518.53,217.16 L519.50,216.93 L520.49,216.74 L521.49,216.59 L522.49,216.48 L523.50,216.44 L524.50,216.44 L525.49,216.52 L526.48,216.65 L527.46,216.84 L528.43,217.09 L529.39,217.39 L530.34,217.73 L531.28,218.11 L532.21,218.52 L533.12,218.96 L534.03,219.43 L534.93,219.90 L535.82,220.38 L536.71,220.86 L537.61,221.31 L538.52,221.73 L539.43,222.11 L540.37,222.44 L541.32,222.71 L542.30,222.91 L543.29,223.03 L544.30,223.08 L545.31,223.06 L546.32,222.97 L547.33,222.81 L548.32,222.59 L549.30,222.30 L550.27,221.96 L551.23,221.61 L552.18,221.24 L553.13,220.89 L554.08,220.56 L555.03,220.28 L555.99,220.07 L556.95,219.94 L557.93,219.91 L558.91,219.98 L559.90,220.14 L560.89,220.38 L561.86,220.69 L562.82,221.06 L563.76,221.48 L564.67,221.93 L565.56,222.41 L566.43,222.91 L567.29,223.42 L568.15,223.93 L569.00,224.44 L569.87,224.93 L570.75,225.39 L571.66,225.83 L572.59,226.22 L573.55,226.56 L574.53,226.85 L575.53,227.07 L576.53,227.22 L577.53,227.29 L578.52,227.28 L579.50,227.16 L580.46,226.97 L581.41,226.69 L582.34,226.35 L583.27,225.96 L584.20,225.53 L585.12,225.07 L586.04,224.59 L586.95,224.11 L587.87,223.64 L588.80,223.20 L589.73,222.79 L590.68,222.45 L591.63,222.18 L592.60,222.00 L593.59,221.92 L594.59,221.97 L595.59,222.12 L596.58,222.37 L597.54,222.70 L598.47,223.11 L599.35,223.58 L600.18,224.11 L600.98,224.70 L601.74,225.32 L602.49,225.97 L603.24,226.64 L603.99,227.33 L604.75,228.02 L605.54,228.71 L606.35,229.39 L607.20,230.03 L608.07,230.61 L608.96,231.12 L609.88,231.53 L610.81,231.82 L611.77,231.98 L612.73,231.98 L613.70,231.83 L614.67,231.55 L615.63,231.16 L616.55,230.67 L617.45,230.11 L618.29,229.50 L619.08,228.84 L619.82,228.16 L620.51,227.46 L621.18,226.74 L621.85,226.02 L622.52,225.28 L623.21,224.54 L623.94,223.81 L624.72,223.09 L625.55,222.40 L626.42,221.80 L627.32,221.32 L628.25,220.98 L629.19,220.84 L630.13,220.91 L631.08,221.18 L632.00,221.61 L632.90,222.17 L633.74,222.83 L634.53,223.54 L635.24,224.28 L635.88,225.04 L636.47,225.82 L637.01,226.61 L637.51,227.43 L637.98,228.28 L638.43,229.16 L638.88,230.07 L639.34,231.02 L639.81,232.00 L640.30,233.02 L640.83,234.06 L641.39,235.10 L641.99,236.10 L642.63,237.03 L643.30,237.87 L644.02,238.58 L644.78,239.14 L645.60,239.51 L646.46,239.67 L647.37,239.59 L648.30,239.29 L649.23,238.81 L650.10,238.19 L650.89,237.47 L651.57,236.69 L652.16,235.85 L652.65,234.97 L653.08,234.05 L653.44,233.10 L653.75,232.14 L654.02,231.15 L654.27,230.17 L654.50,229.19 L654.73,228.22 L654.97,227.27 L655.22,226.34 L655.48,225.43 L655.77,224.52 L656.09,223.62 L656.43,222.73 L656.81,221.83 L657.22,220.94 L657.68,220.04 L658.18,219.13 L658.73,218.21 L659.34,217.27 L660.01,216.32 L660.73,215.36 L661.50,214.44 L662.30,213.64 L663.12,213.03 L663.93,212.66 L664.72,212.61 L665.48,212.93 L666.19,213.54 L666.86,214.38 L667.48,215.35 L668.04,216.38 L668.54,217.41 L668.99,218.42 L669.38,219.41 L669.72,220.39 L670.02,221.36 L670.29,222.32 L670.52,223.28 L670.73,224.23 L670.91,225.18 L671.08,226.13 L671.23,227.07 L671.38,228.02 L671.52,228.97 L671.67,229.93 L671.83,230.90 L671.99,231.88 L672.17,232.86 L672.36,233.85 L672.56,234.85 L672.76,235.84 L672.97,236.84 L673.19,237.84 L673.41,238.84 L673.64,239.83 L673.87,240.82 L674.11,241.80 L674.34,242.77 L674.58,243.74 L674.81,244.69 L675.05,245.63 L675.28,246.55 L675.50,247.46 L675.73,248.36 L675.95,249.25 L676.17,250.13 L676.38,251.01 L676.59,251.89 L676.80,252.77 L677.00,253.67 L677.20,254.57 L677.40,255.49 L677.59,256.43 L677.78,257.39 L677.97,258.37 L678.16,259.39 L678.34,260.43 L678.51,261.51 L678.69,262.64 L678.86,263.80 L679.02,265.01 L679.19,266.27 L679.35,267.58 L679.51,268.92 L679.67,270.29 L679.82,271.66 L679.98,273.02 L680.14,274.37 L680.31,275.68 L680.47,276.94 L680.65,278.15 L680.82,279.28 L681.01,280.32 L681.20,281.26 L681.40,282.08 L681.61,282.78 L681.83,283.33 L682.07,283.73 L682.31,283.96 L682.57,284.01 L682.84,283.86 L683.13,283.53 L683.42,283.03 L683.73,282.38 L684.04,281.59 L684.35,280.68 L684.67,279.67 L684.99,278.56 L685.31,277.39 L685.62,276.16 L685.93,274.89 L686.23,273.59 L686.52,272.29 L686.79,270.99 L687.06,269.72 L687.31,268.48 L687.54,267.27 L687.76,266.10 L687.97,264.95 L688.16,263.84 L688.34,262.75 L688.51,261.68 L688.67,260.64 L688.82,259.62 L688.96,258.63 L689.09,257.65 L689.22,256.68 L689.33,255.73 L689.44,254.80 L689.55,253.87 L689.65,252.96 L689.74,252.05 L689.83,251.15 L689.92,250.26 L690.00,249.37 L690.09,248.47 L690.17,247.58 L690.25,246.69 L690.33,245.79 L690.42,244.89 L690.50,243.98 L690.59,243.06 L690.68,242.14 L690.77,241.20 L690.86,240.26 L690.96,239.31 L691.05,238.35 L691.15,237.39 L691.25,236.41 L691.35,235.44 L691.46,234.45 L691.56,233.46 L691.66,232.47 L691.77,231.47 L691.88,230.46 L691.98,229.45 L692.09,228.44 L692.20,227.42 L692.31,226.40 L692.42,225.38 L692.53,224.35 L692.64,223.32 L692.75,222.28 L692.86,221.25 L692.97,220.21 L693.07,219.18 L693.18,218.14 L693.29,217.10 L693.40,216.06 L693.50,215.02 L693.61,213.97 L693.71,212.94 L693.82,211.90 L693.92,210.86 L694.02,209.82 L694.13,208.79 L694.23,207.76 L694.33,206.73 L694.43,205.71 L694.53,204.69 L694.63,203.67 L694.73,202.66 L694.83,201.65 L694.93,200.65 L695.03,199.65 L695.12,198.66 L695.22,197.68 L695.32,196.70 L695.41,195.73 L695.51,194.77 L695.61,193.82 L695.70,192.87 L695.80,191.93 L695.89,191.01 L695.99,190.09 L696.08,189.18 L696.18,188.28 L696.27,187.39 L696.37,186.51 L696.46,185.63 L696.56,184.76 L696.66,183.88 L696.77,183.01 L696.88,182.13 L696.99,181.24 L697.11,180.35 L697.23,179.45 L697.36,178.53 L697.50,177.61 L697.64,176.66 L697.79,175.70 L697.95,174.72 L698.12,173.71 L698.29,172.68 L698.48,171.63 L698.68,170.55 L698.89,169.43 L699.11,168.29 L699.34,167.11 L699.59,165.89 L699.85,164.64 L700.12,163.34 L700.41,162.01 L700.71,160.69 L701.02,159.38 L701.34,158.13 L701.67,156.95 L702.01,155.87 L702.35,154.93 L702.70,154.15 L703.05,153.54 L703.41,153.15 L703.76,153.00 L704.12,153.11 L704.48,153.46 L704.83,154.02 L705.18,154.78 L705.52,155.70 L705.85,156.75 L706.18,157.91 L706.49,159.16 L706.79,160.46 L707.08,161.79 L707.35,163.11 L707.60,164.42 L707.83,165.68 L708.05,166.91 L708.25,168.09 L708.44,169.25 L708.61,170.37 L708.76,171.46 L708.90,172.52 L709.03,173.55 L709.15,174.56 L709.26,175.54 L709.36,176.51 L709.44,177.46 L709.52,178.39 L709.59,179.30 L709.65,180.21 L709.71,181.10 L709.76,181.98 L709.81,182.86 L709.85,183.74 L709.89,184.61 L709.92,185.48 L709.96,186.35 L709.99,187.23 L710.02,188.12 L710.06,189.01 L710.09,189.90 L710.12,190.81 L710.16,191.72 L710.19,192.63 L710.23,193.55 L710.26,194.48 L710.29,195.41 L710.33,196.35 L710.36,197.29 L710.40,198.24 L710.44,199.20 L710.47,200.16 L710.51,201.12 L710.54,202.09 L710.58,203.06 L710.62,204.04 L710.66,205.03 L710.70,206.01 L710.73,207.00 L710.77,208.00 L710.81,209.00 L710.85,210.00 L710.89,211.01 L710.94,212.02 L710.98,213.03 L711.02,214.05 L711.06,215.07 L711.11,216.10 L711.15,217.12 L711.19,218.15 L711.24,219.18 L711.29,220.22 L711.33,221.26 L711.38,222.30 L711.43,223.34 L711.48,224.38 L711.53,225.43 L711.58,226.48 L711.63,227.53 L711.68,228.58 L711.73,229.63 L711.79,230.69 L711.84,231.74 L711.90,232.80 L711.95,233.86 L712.01,234.92 L712.07,235.98 L712.13,237.04 L712.19,238.10 L712.25,239.16 L712.31,240.22 L712.38,241.28 L712.44,242.34 L712.50,243.41 L712.57,244.47 L712.64,245.53 L712.70,246.59 L712.77,247.64 L712.84,248.70 L712.90,249.76 L712.97,250.81 L713.04,251.86 L713.10,252.91 L713.17,253.96 L713.23,255.01 L713.30,256.05 L713.36,257.09 L713.42,258.13 L713.48,259.16 L713.54,260.20 L713.60,261.22 L713.66,262.25 L713.72,263.27 L713.77,264.28 L713.82,265.29 L713.87,266.30 L713.92,267.30 L713.97,268.30 L714.01,269.29 L714.06,270.28 L714.09,271.26 L714.13,272.24 L714.16,273.21 L714.20,274.17 L714.22,275.13 L714.25,276.08 L714.27,277.02 L714.29,277.96 L714.30,278.89 L714.31,279.81 L714.32,280.73 L714.32,281.64 L714.32,282.54 L714.32,283.43 L714.31,284.31 L714.30,285.19 L714.28,286.06 L714.26,286.91 L714.23,287.77 L714.20,288.62 L714.17,289.46 L714.14,290.30 L714.10,291.14 L714.07,291.97 L714.03,292.81 L713.99,293.64 L713.95,294.48 L713.91,295.31 L713.87,296.15 L713.83,297.00 L713.79,297.85 L713.75,298.71 L713.72,299.57 L713.69,300.44 L713.66,301.32 L713.63,302.21 L713.61,303.11 L713.59,304.02 L713.57,304.94 L713.56,305.88 L713.55,306.83 L713.55,307.80 L713.56,308.78 L713.57,309.78 L713.58,310.80 L713.61,311.84 L713.64,312.90 L713.68,313.98 L713.72,315.08 L713.78,316.21 L713.84,317.36 L713.92,318.53 L714.00,319.73 L714.09,320.96 L714.19,322.21 L714.31,323.50 L714.43,324.81 L714.57,326.16 L714.71,327.53 L714.87,328.94 L715.05,330.38 L715.24,331.61 L715.45,331.97 L715.69,331.15 L715.94,329.76 L716.17,328.34 L716.39,326.95 L716.58,325.59 L716.77,324.27 L716.93,322.97 L717.08,321.70 L717.22,320.47 L717.34,319.25 L717.45,318.07 L717.55,316.91 L717.63,315.78 L717.70,314.66 L717.76,313.57 L717.81,312.51 L717.85,311.46 L717.88,310.43 L717.90,309.42 L717.91,308.43 L717.91,307.46 L717.91,306.50 L717.89,305.55 L717.87,304.62 L717.84,303.71 L717.81,302.80 L717.77,301.90 L717.73,301.02 L717.68,300.14 L717.63,299.28 L717.57,298.41 L717.51,297.56 L717.45,296.71 L717.39,295.86 L717.32,295.02 L717.25,294.18 L717.19,293.34 L717.12,292.50 L717.05,291.66 L716.99,290.82 L716.92,289.98 L716.86,289.13 L716.80,288.28 L716.74,287.43 L716.69,286.56 L716.64,285.69 L716.59,284.81 L716.55,283.92 L716.51,283.03 L716.48,282.12 L716.45,281.21 L716.43,280.29 L716.41,279.36 L716.40,278.42 L716.39,277.48 L716.38,276.52 L716.37,275.57 L716.38,274.60 L716.38,273.63 L716.39,272.65 L716.40,271.67 L716.41,270.68 L716.43,269.69 L716.45,268.69 L716.47,267.69 L716.49,266.68 L716.52,265.67 L716.55,264.65 L716.58,263.63 L716.62,262.61 L716.65,261.59 L716.69,260.56 L716.73,259.52 L716.78,258.49 L716.82,257.45 L716.87,256.41 L716.91,255.37 L716.96,254.33 L717.01,253.29 L717.06,252.25 L717.11,251.20 L717.17,250.16 L717.22,249.11 L717.27,248.07 L717.33,247.02 L717.38,245.98 L717.44,244.93 L717.49,243.89 L717.55,242.85 L717.60,241.81 L717.66,240.77 L717.71,239.74 L717.77,238.71 L717.82,237.68 L717.88,236.65 L717.93,235.62 L717.98,234.60 L718.04,233.57 L718.09,232.55 L718.14,231.53 L718.19,230.52 L718.24,229.50 L718.30,228.49 L718.35,227.48 L718.40,226.47 L718.45,225.46 L718.50,224.45 L718.54,223.45 L718.59,222.44 L718.64,221.44 L718.69,220.44 L718.74,219.44 L718.78,218.44 L718.83,217.44 L718.88,216.44 L718.92,215.44 L718.97,214.45 L719.01,213.45 L719.06,212.46 L719.10,211.47 L719.15,210.48 L719.19,209.48 L719.23,208.49 L719.27,207.50 L719.32,206.51 L719.36,205.52 L719.40,204.53 L719.44,203.55 L719.48,202.56 L719.52,201.57 L719.56,200.58 L719.60,199.59 L719.64,198.60 L719.67,197.62 L719.71,196.63 L719.75,195.64 L719.79,194.65 L719.82,193.66 L719.86,192.67 L719.89,191.68 L719.93,190.69 L719.96,189.70 L719.99,188.71 L720.03,187.72 L720.06,186.73 L720.09,185.74 L720.12,184.74 L720.16,183.75 L720.19,182.75 L720.22,181.76 L720.25,180.76 L720.28,179.76 L720.31,178.77 L720.34,177.77 L720.36,176.77 L720.39,175.77 L720.42,174.77 L720.45,173.77 L720.48,172.77 L720.51,171.77 L720.54,170.77 L720.57,169.76 L720.60,168.76 L720.63,167.76 L720.66,166.76 L720.69,165.76 L720.72,164.75 L720.75,163.75 L720.78,162.75 L720.82,161.74 L720.85,160.74 L720.88,159.74 L720.92,158.73 L720.95,157.73 L720.99,156.73 L721.03,155.73 L721.06,154.72 L721.10,153.72 L721.14,152.72 L721.18,151.72 L721.22,150.71 L721.27,149.71 L721.31,148.71 L721.36,147.71 L721.40,146.71 L721.45,145.71 L721.49,144.71 L721.54,143.71 L721.59,142.71 L721.64,141.71 L721.69,140.71 L721.75,139.71 L721.80,138.71 L721.85,137.71 L721.91,136.71 L721.97,135.71 L722.02,134.71 L722.08,133.71 L722.14,132.72 L722.20,131.72 L722.26,130.72 L722.32,129.72 L722.38,128.72 L722.44,127.72 L722.50,126.72 L722.57,125.72 L722.63,124.73 L722.70,123.73 L722.77,122.73 L722.83,121.73 L722.90,120.73 L722.97,119.73 L723.05,118.73 L723.12,117.74 L723.19,116.74 L723.27,115.74 L723.35,114.74 L723.43,113.74 L723.51,112.74 L723.59,111.75 L723.67,110.75 L723.76,109.75 L723.85,108.75 L723.94,107.76 L724.03,106.76 L724.12,105.76 L724.22,104.76 L724.31,103.77 L724.41,102.77 L724.51,101.77 L724.62,100.78 L724.72,99.78 L724.83,98.78 L724.94,97.79 L725.05,96.79 L725.17,95.80 L725.28,94.80 L725.40,93.81 L725.52,92.81 L725.65,91.82 L725.77,90.82 L725.90,89.83 L726.02,88.84 L726.15,87.85 L726.28,86.85 L726.42,85.86 L726.55,84.87 L726.68,83.88 L726.82,82.90 L726.96,81.91 L727.10,80.92 L727.25,79.93 L727.40,78.95 L727.55,77.96 L727.71,76.97 L727.87,75.98 L728.04,75.00 L728.22,74.01 L728.40,73.02 L728.59,72.03 L728.79,71.04 L728.99,70.05 L729.21,69.06 L729.44,68.08 L729.70,67.10 L729.97,66.13 L730.27,65.17 L730.60,64.22 L730.97,63.29 L731.38,62.38 L731.84,61.50 L732.34,60.64 L732.89,59.80 L733.50,59.00" stroke="#ff0000" stroke-width="2.3" stroke-dasharray="11 10" stroke-dashoffset="11.03"/>
<path d="M113.30,196.00 L113.45,197.28 L113.58,198.50 L113.71,199.65 L113.82,200.75 L113.93,201.79 L114.03,202.78 L114.13,203.74 L114.22,204.66 L114.31,205.55 L114.40,206.42 L114.50,207.27 L114.59,208.12 L114.69,208.95 L114.80,209.79 L114.92,210.63 L115.05,211.48 L115.19,212.36 L115.34,213.25 L115.51,214.18 L115.69,215.14 L115.89,216.14 L116.12,217.19 L116.36,218.29 L116.63,219.45 L116.92,220.67 L117.24,221.96 L117.59,223.27 L117.96,224.51 L118.37,225.64 L118.81,226.56 L119.28,227.20 L119.78,227.50 L120.32,227.38 L120.89,226.87 L121.47,226.06 L122.04,225.04 L122.58,223.92 L123.09,222.79 L123.55,221.71 L123.97,220.69 L124.34,219.71 L124.68,218.77 L124.98,217.85 L125.26,216.96 L125.52,216.08 L125.77,215.19 L126.00,214.30 L126.23,213.39 L126.45,212.47 L126.66,211.53 L126.88,210.58 L127.08,209.62 L127.29,208.64 L127.49,207.66 L127.69,206.67 L127.88,205.67 L128.08,204.67 L128.27,203.66 L128.46,202.65 L128.66,201.64 L128.85,200.63 L129.04,199.62 L129.24,198.62 L129.43,197.61 L129.63,196.62 L129.83,195.62 L130.03,194.63 L130.23,193.65 L130.43,192.66 L130.63,191.68 L130.83,190.70 L131.03,189.72 L131.23,188.74 L131.42,187.77 L131.61,186.79 L131.81,185.82 L131.99,184.84 L132.18,183.86 L132.36,182.89 L132.54,181.91 L132.71,180.92 L132.88,179.94 L133.05,178.95 L133.22,177.97 L133.38,176.98 L133.55,175.99 L133.71,175.00 L133.88,174.01 L134.06,173.02 L134.24,172.04 L134.43,171.05 L134.62,170.07 L134.83,169.09 L135.04,168.11 L135.27,167.14 L135.51,166.17 L135.76,165.20 L136.01,164.23 L136.27,163.27 L136.54,162.30 L136.80,161.33 L137.06,160.35 L137.32,159.38 L137.57,158.40 L137.83,157.42 L138.10,156.45 L138.36,155.49 L138.63,154.53 L138.91,153.57 L139.20,152.63 L139.49,151.70 L139.80,150.78 L140.12,149.86 L140.45,148.94 L140.80,148.02 L141.16,147.07 L141.54,146.11 L141.95,145.13 L142.37,144.12 L142.82,143.10 L143.30,142.09 L143.82,141.13 L144.39,140.22 L145.00,139.41 L145.66,138.71 L146.39,138.14 L147.18,137.74 L148.05,137.52 L148.97,137.46 L149.95,137.52 L150.97,137.67 L152.02,137.88 L153.08,138.11 L154.15,138.33 L155.22,138.51 L156.29,138.64 L157.34,138.72 L158.37,138.74 L159.38,138.69 L160.37,138.58 L161.34,138.39 L162.27,138.12 L163.16,137.77 L164.01,137.32 L164.83,136.80 L165.63,136.22 L166.40,135.58 L167.17,134.91 L167.93,134.22 L168.70,133.53 L169.48,132.85 L170.28,132.19 L171.10,131.56 L171.95,130.97 L172.81,130.43 L173.69,129.94 L174.60,129.51 L175.53,129.15 L176.48,128.87 L177.45,128.68 L178.45,128.57 L179.45,128.55 L180.47,128.61 L181.48,128.75 L182.48,128.96 L183.46,129.24 L184.42,129.58 L185.34,129.99 L186.24,130.44 L187.11,130.93 L187.96,131.45 L188.81,131.98 L189.65,132.52 L190.50,133.06 L191.36,133.57 L192.24,134.06 L193.14,134.51 L194.07,134.91 L195.02,135.26 L196.00,135.55 L196.98,135.77 L197.98,135.92 L198.98,135.99 L199.98,135.98 L200.97,135.90 L201.97,135.76 L202.96,135.58 L203.96,135.38 L204.95,135.17 L205.94,134.99 L206.93,134.83 L207.92,134.73 L208.91,134.69 L209.90,134.74 L210.88,134.88 L211.86,135.09 L212.83,135.38 L213.79,135.72 L214.73,136.12 L215.65,136.56 L216.55,137.03 L217.42,137.53 L218.28,138.05 L219.13,138.58 L219.96,139.12 L220.79,139.67 L221.63,140.22 L222.46,140.77 L223.31,141.31 L224.17,141.83 L225.05,142.33 L225.94,142.81 L226.85,143.26 L227.77,143.67 L228.70,144.05 L229.65,144.39 L230.60,144.68 L231.57,144.92 L232.55,145.11 L233.53,145.25 L234.52,145.34 L235.52,145.41 L236.52,145.44 L237.53,145.46 L238.54,145.48 L239.55,145.49 L240.56,145.52 L241.58,145.56 L242.58,145.63 L243.59,145.73 L244.58,145.88 L245.56,146.07 L246.52,146.32 L247.46,146.63 L248.39,146.99 L249.30,147.41 L250.19,147.87 L251.07,148.36 L251.94,148.88 L252.80,149.42 L253.64,149.97 L254.49,150.52 L255.32,151.07 L256.16,151.63 L256.99,152.17 L257.83,152.72 L258.68,153.25 L259.53,153.77 L260.40,154.27 L261.28,154.76 L262.17,155.22 L263.08,155.66 L264.01,156.07 L264.95,156.44 L265.90,156.78 L266.86,157.08 L267.83,157.32 L268.81,157.52 L269.79,157.66 L270.79,157.75 L271.78,157.80 L272.78,157.82 L273.79,157.83 L274.79,157.83 L275.80,157.85 L276.80,157.88 L277.80,157.96 L278.80,158.07 L279.80,158.23 L280.78,158.42 L281.76,158.66 L282.72,158.94 L283.68,159.25 L284.61,159.61 L285.53,160.01 L286.44,160.44 L287.33,160.90 L288.20,161.39 L289.06,161.92 L289.91,162.46 L290.74,163.03 L291.55,163.62 L292.36,164.22 L293.16,164.83 L293.97,165.42 L294.78,166.00 L295.61,166.56 L296.46,167.08 L297.35,167.55 L298.26,167.98 L299.19,168.35 L300.15,168.68 L301.12,168.96 L302.10,169.18 L303.09,169.35 L304.09,169.48 L305.09,169.55 L306.09,169.60 L307.09,169.63 L308.10,169.64 L309.10,169.66 L310.10,169.69 L311.10,169.74 L312.09,169.83 L313.09,169.97 L314.07,170.16 L315.05,170.40 L316.01,170.69 L316.96,171.03 L317.90,171.41 L318.81,171.84 L319.69,172.30 L320.56,172.81 L321.40,173.34 L322.24,173.89 L323.06,174.46 L323.88,175.04 L324.70,175.62 L325.52,176.19 L326.36,176.75 L327.21,177.28 L328.08,177.79 L328.97,178.27 L329.87,178.71 L330.80,179.12 L331.73,179.49 L332.68,179.82 L333.65,180.11 L334.62,180.35 L335.60,180.55 L336.58,180.70 L337.58,180.82 L338.57,180.90 L339.57,180.97 L340.57,181.02 L341.58,181.06 L342.58,181.11 L343.58,181.16 L344.58,181.24 L345.58,181.34 L346.58,181.47 L347.56,181.64 L348.55,181.85 L349.52,182.09 L350.49,182.36 L351.45,182.66 L352.40,182.98 L353.34,183.34 L354.27,183.72 L355.18,184.13 L356.09,184.55 L356.99,184.99 L357.88,185.44 L358.77,185.90 L359.66,186.36 L360.55,186.81 L361.45,187.26 L362.36,187.70 L363.27,188.12 L364.19,188.53 L365.11,188.92 L366.05,189.29 L366.99,189.64 L367.94,189.96 L368.89,190.25 L369.86,190.51 L370.83,190.75 L371.80,190.95 L372.78,191.13 L373.77,191.28 L374.76,191.41 L375.76,191.53 L376.76,191.63 L377.76,191.72 L378.77,191.80 L379.77,191.87 L380.79,191.94 L381.80,192.02 L382.81,192.11 L383.81,192.22 L384.81,192.35 L385.79,192.52 L386.76,192.72 L387.72,192.98 L388.65,193.29 L389.57,193.65 L390.48,194.06 L391.37,194.50 L392.26,194.97 L393.14,195.46 L394.02,195.95 L394.91,196.45 L395.80,196.94 L396.70,197.41 L397.61,197.87 L398.53,198.30 L399.46,198.69 L400.40,199.06 L401.35,199.38 L402.31,199.66 L403.27,199.89 L404.25,200.07 L405.23,200.19 L406.22,200.27 L407.21,200.32 L408.21,200.33 L409.21,200.32 L410.22,200.30 L411.23,200.28 L412.24,200.27 L413.25,200.26 L414.26,200.28 L415.27,200.33 L416.27,200.42 L417.28,200.53 L418.27,200.68 L419.26,200.87 L420.24,201.08 L421.22,201.33 L422.18,201.62 L423.13,201.93 L424.07,202.28 L424.99,202.66 L425.91,203.07 L426.81,203.49 L427.71,203.92 L428.61,204.36 L429.52,204.80 L430.42,205.22 L431.34,205.64 L432.27,206.02 L433.21,206.39 L434.17,206.71 L435.13,207.01 L436.10,207.27 L437.09,207.49 L438.07,207.67 L439.07,207.80 L440.06,207.88 L441.06,207.91 L442.06,207.91 L443.05,207.87 L444.05,207.81 L445.06,207.74 L446.06,207.66 L447.06,207.60 L448.06,207.55 L449.07,207.53 L450.07,207.54 L451.08,207.60 L452.08,207.69 L453.07,207.82 L454.07,207.98 L455.05,208.18 L456.03,208.42 L456.99,208.69 L457.95,208.99 L458.89,209.33 L459.83,209.68 L460.75,210.06 L461.68,210.45 L462.60,210.85 L463.52,211.25 L464.44,211.65 L465.36,212.04 L466.29,212.43 L467.22,212.79 L468.16,213.14 L469.10,213.47 L470.05,213.78 L471.01,214.07 L471.98,214.34 L472.96,214.58 L473.94,214.79 L474.93,214.98 L475.93,215.12 L476.93,215.22 L477.93,215.28 L478.94,215.28 L479.94,215.21 L480.93,215.09 L481.93,214.91 L482.92,214.71 L483.90,214.48 L484.89,214.26 L485.87,214.06 L486.86,213.89 L487.84,213.78 L488.82,213.74 L489.81,213.78 L490.79,213.90 L491.78,214.09 L492.75,214.34 L493.73,214.63 L494.69,214.97 L495.65,215.34 L496.59,215.73 L497.52,216.14 L498.44,216.55 L499.35,216.97 L500.27,217.38 L501.18,217.79 L502.10,218.18 L503.02,218.54 L503.96,218.88 L504.92,219.18 L505.89,219.45 L506.87,219.67 L507.87,219.85 L508.88,219.98 L509.88,220.05 L510.89,220.08 L511.89,220.04 L512.89,219.94 L513.87,219.79 L514.85,219.59 L515.82,219.36 L516.79,219.11 L517.76,218.85 L518.74,218.60 L519.72,218.38 L520.71,218.20 L521.71,218.06 L522.71,217.97 L523.72,217.93 L524.72,217.95 L525.71,218.04 L526.70,218.19 L527.67,218.39 L528.64,218.65 L529.60,218.96 L530.55,219.31 L531.48,219.70 L532.41,220.12 L533.33,220.56 L534.23,221.03 L535.13,221.51 L536.02,221.99 L536.91,222.46 L537.81,222.91 L538.72,223.32 L539.64,223.69 L540.58,224.01 L541.54,224.26 L542.52,224.44 L543.52,224.55 L544.53,224.58 L545.54,224.55 L546.55,224.44 L547.56,224.27 L548.55,224.03 L549.52,223.73 L550.49,223.39 L551.44,223.02 L552.40,222.66 L553.34,222.31 L554.29,221.99 L555.24,221.73 L556.20,221.53 L557.17,221.42 L558.15,221.42 L559.14,221.51 L560.13,221.69 L561.11,221.95 L562.08,222.27 L563.04,222.65 L563.97,223.08 L564.88,223.54 L565.76,224.02 L566.63,224.53 L567.49,225.04 L568.34,225.55 L569.20,226.05 L570.07,226.54 L570.96,226.99 L571.87,227.42 L572.81,227.80 L573.78,228.13 L574.76,228.41 L575.76,228.61 L576.76,228.75 L577.76,228.80 L578.75,228.76 L579.72,228.63 L580.68,228.41 L581.62,228.12 L582.56,227.76 L583.49,227.36 L584.41,226.92 L585.33,226.46 L586.25,225.98 L587.17,225.50 L588.09,225.04 L589.02,224.60 L589.95,224.21 L590.90,223.88 L591.86,223.62 L592.83,223.47 L593.82,223.42 L594.82,223.49 L595.82,223.67 L596.81,223.94 L597.77,224.29 L598.68,224.71 L599.55,225.20 L600.37,225.75 L601.16,226.34 L601.92,226.97 L602.67,227.62 L603.42,228.30 L604.17,228.99 L604.94,229.69 L605.73,230.38 L606.55,231.05 L607.40,231.67 L608.28,232.24 L609.18,232.73 L610.10,233.11 L611.04,233.37 L611.99,233.49 L612.96,233.46 L613.94,233.27 L614.90,232.97 L615.85,232.55 L616.77,232.05 L617.65,231.47 L618.49,230.84 L619.26,230.18 L619.99,229.50 L620.68,228.79 L621.34,228.07 L622.01,227.34 L622.68,226.60 L623.38,225.86 L624.13,225.13 L624.92,224.42 L625.76,223.75 L626.64,223.17 L627.54,222.72 L628.47,222.43 L629.42,222.33 L630.36,222.46 L631.30,222.77 L632.22,223.24 L633.11,223.83 L633.94,224.50 L634.71,225.22 L635.40,225.97 L636.03,226.73 L636.60,227.51 L637.13,228.31 L637.62,229.14 L638.09,230.00 L638.54,230.88 L638.99,231.80 L639.45,232.75 L639.93,233.75 L640.43,234.77 L640.97,235.82 L641.54,236.85 L642.14,237.84 L642.79,238.75 L643.47,239.56 L644.20,240.24 L644.98,240.75 L645.80,241.07 L646.68,241.17 L647.60,241.04 L648.53,240.68 L649.45,240.16 L650.31,239.52 L651.07,238.78 L651.73,237.99 L652.29,237.14 L652.77,236.25 L653.17,235.32 L653.52,234.37 L653.82,233.39 L654.09,232.41 L654.33,231.42 L654.56,230.45 L654.79,229.48 L655.03,228.54 L655.28,227.61 L655.56,226.70 L655.85,225.79 L656.17,224.90 L656.52,224.00 L656.91,223.11 L657.33,222.21 L657.80,221.31 L658.32,220.40 L658.88,219.47 L659.50,218.53 L660.18,217.58 L660.92,216.62 L661.70,215.73 L662.51,214.97 L663.32,214.41 L664.13,214.12 L664.91,214.16 L665.66,214.56 L666.37,215.24 L667.03,216.12 L667.63,217.11 L668.17,218.15 L668.65,219.17 L669.07,220.17 L669.44,221.16 L669.76,222.14 L670.04,223.11 L670.28,224.08 L670.49,225.03 L670.68,225.98 L670.84,226.93 L670.99,227.88 L671.14,228.83 L671.27,229.79 L671.42,230.75 L671.56,231.71 L671.72,232.68 L671.90,233.66 L672.08,234.65 L672.28,235.64 L672.49,236.64 L672.70,237.64 L672.93,238.63 L673.16,239.63 L673.39,240.62 L673.63,241.60 L673.87,242.59 L674.12,243.56 L674.36,244.52 L674.60,245.47 L674.85,246.41 L675.08,247.34 L675.32,248.25 L675.55,249.15 L675.78,250.04 L676.00,250.92 L676.22,251.80 L676.43,252.68 L676.64,253.57 L676.85,254.47 L677.05,255.38 L677.26,256.30 L677.45,257.24 L677.65,258.21 L677.84,259.20 L678.02,260.21 L678.21,261.27 L678.39,262.36 L678.57,263.48 L678.74,264.65 L678.92,265.87 L679.09,267.14 L679.25,268.45 L679.42,269.79 L679.59,271.15 L679.75,272.52 L679.92,273.87 L680.09,275.21 L680.26,276.51 L680.43,277.77 L680.61,278.97 L680.79,280.09 L680.98,281.14 L681.18,282.08 L681.38,282.92 L681.58,283.63 L681.80,284.21 L682.03,284.64 L682.26,284.91 L682.51,285.01 L682.77,284.92 L683.04,284.65 L683.31,284.21 L683.60,283.62 L683.89,282.90 L684.18,282.05 L684.48,281.09 L684.78,280.03 L685.08,278.90 L685.37,277.70 L685.66,276.45 L685.95,275.17 L686.23,273.86 L686.50,272.55 L686.76,271.24 L687.01,269.96 L687.24,268.71 L687.47,267.49 L687.68,266.31 L687.88,265.16 L688.06,264.03 L688.24,262.94 L688.41,261.87 L688.57,260.82 L688.72,259.80 L688.86,258.80 L688.99,257.81 L689.12,256.85 L689.24,255.90 L689.35,254.96 L689.46,254.03 L689.57,253.12 L689.67,252.21 L689.77,251.31 L689.86,250.42 L689.95,249.52 L690.04,248.64 L690.13,247.75 L690.22,246.85 L690.31,245.96 L690.40,245.06 L690.48,244.15 L690.58,243.24 L690.67,242.31 L690.76,241.38 L690.86,240.44 L690.96,239.49 L691.06,238.53 L691.16,237.57 L691.26,236.60 L691.36,235.62 L691.46,234.64 L691.57,233.65 L691.67,232.66 L691.78,231.66 L691.88,230.65 L691.99,229.64 L692.10,228.63 L692.20,227.61 L692.31,226.59 L692.42,225.57 L692.53,224.54 L692.63,223.51 L692.74,222.48 L692.85,221.44 L692.95,220.40 L693.06,219.37 L693.17,218.33 L693.27,217.29 L693.38,216.24 L693.48,215.20 L693.58,214.16 L693.69,213.12 L693.79,212.08 L693.89,211.04 L693.99,210.01 L694.09,208.97 L694.19,207.94 L694.29,206.91 L694.39,205.88 L694.49,204.86 L694.59,203.84 L694.68,202.83 L694.78,201.82 L694.88,200.82 L694.98,199.82 L695.08,198.83 L695.18,197.85 L695.27,196.87 L695.37,195.90 L695.47,194.93 L695.57,193.98 L695.67,193.03 L695.76,192.09 L695.86,191.17 L695.96,190.25 L696.06,189.34 L696.16,188.44 L696.26,187.55 L696.36,186.67 L696.47,185.79 L696.57,184.92 L696.68,184.04 L696.80,183.17 L696.91,182.29 L697.04,181.40 L697.16,180.51 L697.29,179.60 L697.43,178.68 L697.58,177.75 L697.73,176.80 L697.89,175.83 L698.06,174.84 L698.24,173.82 L698.43,172.78 L698.63,171.71 L698.84,170.61 L699.06,169.48 L699.29,168.32 L699.54,167.11 L699.80,165.87 L700.07,164.58 L700.35,163.26 L700.65,161.94 L700.96,160.63 L701.28,159.36 L701.61,158.16 L701.94,157.07 L702.29,156.10 L702.64,155.28 L702.99,154.64 L703.34,154.21 L703.70,154.01 L704.06,154.07 L704.41,154.38 L704.76,154.91 L705.11,155.63 L705.46,156.52 L705.79,157.56 L706.12,158.70 L706.43,159.93 L706.74,161.23 L707.03,162.55 L707.30,163.88 L707.55,165.18 L707.79,166.45 L708.01,167.68 L708.22,168.86 L708.40,170.02 L708.58,171.13 L708.73,172.22 L708.88,173.27 L709.01,174.30 L709.13,175.31 L709.24,176.29 L709.34,177.25 L709.42,178.19 L709.51,179.12 L709.58,180.03 L709.64,180.93 L709.70,181.82 L709.76,182.70 L709.81,183.57 L709.85,184.45 L709.90,185.32 L709.94,186.19 L709.98,187.07 L710.02,187.95 L710.06,188.84 L710.10,189.74 L710.14,190.64 L710.18,191.55 L710.22,192.46 L710.26,193.39 L710.30,194.31 L710.34,195.25 L710.38,196.18 L710.42,197.13 L710.47,198.08 L710.51,199.03 L710.55,199.99 L710.59,200.95 L710.63,201.92 L710.67,202.90 L710.71,203.88 L710.76,204.86 L710.80,205.85 L710.84,206.84 L710.88,207.83 L710.92,208.83 L710.97,209.84 L711.01,210.84 L711.05,211.86 L711.10,212.87 L711.14,213.89 L711.18,214.91 L711.23,215.93 L711.27,216.96 L711.31,217.99 L711.36,219.02 L711.40,220.06 L711.45,221.09 L711.49,222.13 L711.54,223.17 L711.58,224.22 L711.63,225.26 L711.68,226.31 L711.72,227.36 L711.77,228.41 L711.82,229.46 L711.86,230.52 L711.91,231.57 L711.96,232.63 L712.01,233.68 L712.05,234.74 L712.10,235.80 L712.15,236.86 L712.20,237.92 L712.25,238.98 L712.30,240.04 L712.35,241.09 L712.40,242.15 L712.45,243.21 L712.50,244.27 L712.56,245.33 L712.61,246.38 L712.66,247.44 L712.71,248.49 L712.76,249.55 L712.81,250.60 L712.87,251.65 L712.92,252.69 L712.97,253.74 L713.02,254.78 L713.07,255.82 L713.12,256.86 L713.17,257.90 L713.22,258.93 L713.27,259.96 L713.32,260.99 L713.37,262.01 L713.42,263.03 L713.46,264.04 L713.51,265.05 L713.56,266.06 L713.60,267.06 L713.65,268.06 L713.69,269.05 L713.74,270.04 L713.78,271.02 L713.82,272.00 L713.86,272.97 L713.90,273.94 L713.94,274.90 L713.98,275.86 L714.02,276.81 L714.06,277.75 L714.09,278.68 L714.12,279.61 L714.16,280.54 L714.19,281.45 L714.22,282.36 L714.25,283.26 L714.28,284.16 L714.30,285.04 L714.33,285.92 L714.35,286.79 L714.37,287.66 L714.39,288.52 L714.41,289.38 L714.43,290.23 L714.45,291.08 L714.46,291.93 L714.48,292.78 L714.49,293.62 L714.51,294.47 L714.52,295.32 L714.53,296.18 L714.55,297.03 L714.56,297.89 L714.57,298.76 L714.58,299.63 L714.59,300.51 L714.60,301.40 L714.61,302.30 L714.62,303.21 L714.63,304.12 L714.64,305.05 L714.65,305.99 L714.66,306.95 L714.67,307.91 L714.68,308.90 L714.69,309.90 L714.70,310.91 L714.72,311.94 L714.73,313.00 L714.74,314.07 L714.76,315.16 L714.77,316.27 L714.79,317.41 L714.80,318.56 L714.82,319.74 L714.84,320.95 L714.86,322.18 L714.88,323.44 L714.90,324.72 L714.92,326.03 L714.95,327.38 L714.98,328.75 L715.00,330.15 L715.03,331.58 L715.06,333.00 L715.09,334.40 L715.13,335.74 L715.16,336.98 L715.20,338.12 L715.24,339.10 L715.28,339.91 L715.32,340.52 L715.36,340.89 L715.40,341.00 L715.45,340.83 L715.50,340.40 L715.54,339.75 L715.59,338.90 L715.64,337.88 L715.68,336.72 L715.73,335.44 L715.78,334.09 L715.82,332.69 L715.86,331.26 L715.90,329.84 L715.94,328.44 L715.98,327.08 L716.02,325.75 L716.05,324.44 L716.08,323.17 L716.11,321.92 L716.14,320.69 L716.17,319.50 L716.20,318.32 L716.22,317.17 L716.24,316.05 L716.26,314.94 L716.28,313.86 L716.30,312.79 L716.32,311.75 L716.34,310.72 L716.35,309.71 L716.37,308.72 L716.38,307.74 L716.39,306.78 L716.41,305.83 L716.42,304.89 L716.43,303.97 L716.44,303.05 L716.45,302.15 L716.46,301.26 L716.47,300.37 L716.47,299.49 L716.48,298.62 L716.49,297.76 L716.50,296.90 L716.50,296.04 L716.51,295.19 L716.52,294.33 L716.52,293.48 L716.53,292.63 L716.54,291.78 L716.54,290.93 L716.55,290.07 L716.56,289.22 L716.57,288.36 L716.57,287.49 L716.58,286.61 L716.59,285.74 L716.60,284.85 L716.61,283.95 L716.62,283.05 L716.63,282.14 L716.65,281.22 L716.66,280.29 L716.67,279.35 L716.69,278.41 L716.70,277.46 L716.72,276.51 L716.73,275.55 L716.75,274.58 L716.77,273.61 L716.79,272.63 L716.81,271.65 L716.82,270.66 L716.84,269.66 L716.87,268.67 L716.89,267.66 L716.91,266.66 L716.93,265.64 L716.95,264.63 L716.98,263.61 L717.00,262.59 L717.03,261.56 L717.05,260.54 L717.08,259.51 L717.11,258.48 L717.13,257.44 L717.16,256.41 L717.19,255.37 L717.22,254.33 L717.25,253.29 L717.28,252.25 L717.32,251.21 L717.35,250.16 L717.38,249.12 L717.41,248.08 L717.45,247.04 L717.48,246.00 L717.52,244.96 L717.56,243.92 L717.59,242.88 L717.63,241.84 L717.67,240.81 L717.71,239.77 L717.75,238.74 L717.79,237.71 L717.83,236.69 L717.87,235.66 L717.91,234.64 L717.96,233.62 L718.00,232.60 L718.04,231.58 L718.09,230.57 L718.13,229.55 L718.18,228.54 L718.22,227.53 L718.27,226.52 L718.31,225.51 L718.36,224.50 L718.41,223.50 L718.45,222.49 L718.50,221.49 L718.55,220.49 L718.60,219.49 L718.64,218.49 L718.69,217.49 L718.74,216.49 L718.79,215.49 L718.83,214.50 L718.88,213.50 L718.93,212.51 L718.98,211.52 L719.02,210.52 L719.07,209.53 L719.12,208.54 L719.16,207.55 L719.21,206.56 L719.26,205.57 L719.30,204.58 L719.35,203.59 L719.39,202.60 L719.44,201.61 L719.48,200.62 L719.53,199.63 L719.57,198.64 L719.62,197.65 L719.66,196.66 L719.70,195.67 L719.74,194.68 L719.78,193.69 L719.83,192.70 L719.87,191.71 L719.90,190.72 L719.94,189.73 L719.98,188.74 L720.02,187.75 L720.06,186.75 L720.09,185.76 L720.13,184.77 L720.16,183.77 L720.19,182.77 L720.23,181.78 L720.26,180.78 L720.29,179.78 L720.32,178.79 L720.35,177.79 L720.38,176.79 L720.41,175.79 L720.44,174.79 L720.47,173.79 L720.50,172.79 L720.53,171.79 L720.56,170.78 L720.59,169.78 L720.62,168.78 L720.64,167.78 L720.67,166.78 L720.70,165.77 L720.73,164.77 L720.77,163.77 L720.80,162.76 L720.83,161.76 L720.86,160.76 L720.89,159.76 L720.93,158.75 L720.96,157.75 L720.99,156.75 L721.03,155.74 L721.07,154.74 L721.10,153.74 L721.14,152.74 L721.18,151.73 L721.22,150.73 L721.27,149.73 L721.31,148.73 L721.35,147.73 L721.40,146.73 L721.44,145.73 L721.49,144.73 L721.54,143.72 L721.59,142.72 L721.64,141.72 L721.69,140.72 L721.74,139.72 L721.80,138.73 L721.85,137.73 L721.91,136.73 L721.96,135.73 L722.02,134.73 L722.08,133.73 L722.14,132.73 L722.20,131.73 L722.26,130.73 L722.32,129.73 L722.38,128.73 L722.44,127.73 L722.50,126.74 L722.57,125.74 L722.63,124.74 L722.70,123.74 L722.77,122.74 L722.83,121.74 L722.90,120.74 L722.97,119.74 L723.05,118.75 L723.12,117.75 L723.19,116.75 L723.27,115.75 L723.35,114.75 L723.43,113.75 L723.51,112.75 L723.59,111.76 L723.67,110.76 L723.76,109.76 L723.85,108.76 L723.94,107.77 L724.03,106.77 L724.12,105.77 L724.22,104.77 L724.31,103.78 L724.41,102.78 L724.51,101.78 L724.62,100.78 L724.72,99.79 L724.83,98.79 L724.94,97.80 L725.05,96.80 L725.17,95.80 L725.28,94.81 L725.40,93.81 L725.52,92.82 L725.65,91.82 L725.77,90.83 L725.89,89.84 L726.02,88.84 L726.15,87.85 L726.28,86.86 L726.41,85.87 L726.55,84.88 L726.68,83.89 L726.82,82.90 L726.96,81.91 L727.10,80.92 L727.25,79.94 L727.40,78.95 L727.55,77.96 L727.71,76.97 L727.87,75.99 L728.04,75.00 L728.22,74.01 L728.40,73.02 L728.59,72.03 L728.79,71.05 L728.99,70.06 L729.21,69.07 L729.44,68.08 L729.69,67.10 L729.97,66.13 L730.27,65.17 L730.60,64.22 L730.97,63.29 L731.38,62.38 L731.83,61.50 L732.34,60.64 L732.89,59.80 L733.50,59.00" stroke="#00f600" stroke-width="2.3" stroke-dasharray="8.7 8.1" stroke-dashoffset="7.34"/>
<path d="M113.30,197.00 L113.42,198.00 L113.53,198.99 L113.63,199.99 L113.73,200.98 L113.83,201.98 L113.93,202.97 L114.03,203.97 L114.12,204.97 L114.22,205.96 L114.33,206.96 L114.43,207.95 L114.54,208.95 L114.66,209.94 L114.78,210.94 L114.91,211.93 L115.04,212.93 L115.18,213.92 L115.32,214.91 L115.46,215.90 L115.60,216.89 L115.75,217.88 L115.89,218.87 L116.02,219.86 L116.15,220.85 L116.28,221.83 L116.41,222.82 L116.54,223.81 L116.68,224.80 L116.81,225.79 L116.96,226.78 L117.11,227.78 L117.26,228.78 L117.43,229.79 L117.61,230.80 L117.79,231.80 L117.97,232.81 L118.15,233.80 L118.33,234.78 L118.50,235.75 L118.65,236.69 L118.79,237.62 L118.92,238.52 L119.04,239.43 L119.17,240.36 L119.32,241.31 L119.48,242.31 L119.67,243.36 L119.89,244.49 L120.16,245.71 L120.47,246.98 L120.82,248.27 L121.19,249.50 L121.59,250.63 L122.01,251.60 L122.43,252.36 L122.85,252.84 L123.27,253.00 L123.68,252.80 L124.07,252.26 L124.44,251.46 L124.80,250.45 L125.14,249.28 L125.47,248.04 L125.76,246.76 L126.04,245.51 L126.29,244.34 L126.53,243.24 L126.74,242.21 L126.94,241.22 L127.13,240.27 L127.31,239.35 L127.48,238.44 L127.65,237.55 L127.82,236.65 L127.99,235.73 L128.17,234.79 L128.35,233.84 L128.53,232.86 L128.70,231.87 L128.86,230.87 L129.02,229.86 L129.16,228.84 L129.29,227.83 L129.39,226.82 L129.48,225.82 L129.56,224.82 L129.63,223.82 L129.71,222.82 L129.79,221.83 L129.88,220.84 L129.98,219.85 L130.11,218.86 L130.26,217.88 L130.42,216.89 L130.60,215.91 L130.79,214.92 L130.99,213.94 L131.19,212.96 L131.39,211.98 L131.60,210.99 L131.80,210.01 L132.00,209.02 L132.18,208.04 L132.36,207.05 L132.53,206.06 L132.69,205.08 L132.85,204.09 L132.99,203.10 L133.14,202.11 L133.28,201.12 L133.42,200.12 L133.55,199.13 L133.68,198.14 L133.81,197.15 L133.94,196.16 L134.07,195.16 L134.20,194.17 L134.33,193.18 L134.46,192.19 L134.60,191.19 L134.73,190.20 L134.87,189.21 L135.01,188.22 L135.16,187.23 L135.31,186.24 L135.46,185.25 L135.62,184.26 L135.78,183.27 L135.95,182.29 L136.13,181.30 L136.31,180.32 L136.49,179.33 L136.69,178.35 L136.89,177.37 L137.10,176.39 L137.32,175.41 L137.55,174.44 L137.78,173.46 L138.03,172.49 L138.28,171.52 L138.54,170.56 L138.82,169.60 L139.09,168.64 L139.38,167.68 L139.68,166.72 L139.98,165.77 L140.28,164.82 L140.59,163.86 L140.90,162.91 L141.22,161.96 L141.53,161.00 L141.85,160.05 L142.19,159.10 L142.55,158.16 L142.95,157.24 L143.40,156.34 L143.89,155.47 L144.45,154.63 L145.09,153.82 L145.79,153.07 L146.56,152.37 L147.38,151.76 L148.26,151.25 L149.18,150.84 L150.14,150.57 L151.12,150.43 L152.13,150.40 L153.15,150.45 L154.18,150.54 L155.21,150.65 L156.23,150.75 L157.23,150.80 L158.21,150.77 L159.16,150.63 L160.07,150.36 L160.95,149.96 L161.80,149.46 L162.62,148.87 L163.41,148.21 L164.18,147.50 L164.94,146.77 L165.68,146.02 L166.41,145.29 L167.13,144.58 L167.86,143.89 L168.58,143.21 L169.31,142.55 L170.05,141.89 L170.80,141.24 L171.57,140.60 L172.36,139.97 L173.17,139.34 L174.01,138.72 L174.87,138.13 L175.75,137.59 L176.65,137.11 L177.57,136.72 L178.50,136.44 L179.45,136.28 L180.41,136.26 L181.38,136.35 L182.35,136.55 L183.32,136.84 L184.29,137.19 L185.25,137.60 L186.21,138.05 L187.15,138.53 L188.08,139.00 L189.00,139.48 L189.91,139.94 L190.82,140.38 L191.73,140.80 L192.64,141.18 L193.56,141.52 L194.50,141.80 L195.45,142.03 L196.43,142.20 L197.42,142.30 L198.43,142.34 L199.44,142.32 L200.45,142.24 L201.46,142.10 L202.47,141.91 L203.46,141.66 L204.44,141.36 L205.41,141.03 L206.37,140.72 L207.33,140.44 L208.29,140.23 L209.26,140.10 L210.24,140.09 L211.23,140.20 L212.21,140.39 L213.19,140.67 L214.16,141.02 L215.11,141.42 L216.04,141.87 L216.94,142.34 L217.82,142.84 L218.68,143.36 L219.52,143.89 L220.36,144.43 L221.19,144.98 L222.03,145.52 L222.87,146.05 L223.72,146.57 L224.59,147.07 L225.48,147.55 L226.39,148.01 L227.30,148.43 L228.24,148.82 L229.18,149.17 L230.14,149.47 L231.10,149.73 L232.08,149.93 L233.06,150.08 L234.05,150.18 L235.04,150.24 L236.05,150.28 L237.05,150.29 L238.06,150.29 L239.07,150.29 L240.08,150.30 L241.09,150.32 L242.10,150.37 L243.11,150.44 L244.11,150.55 L245.09,150.71 L246.07,150.92 L247.02,151.19 L247.96,151.52 L248.88,151.91 L249.78,152.34 L250.67,152.81 L251.55,153.32 L252.42,153.84 L253.27,154.38 L254.12,154.92 L254.96,155.47 L255.80,156.01 L256.64,156.56 L257.49,157.09 L258.33,157.62 L259.19,158.14 L260.05,158.64 L260.93,159.13 L261.82,159.59 L262.73,160.03 L263.65,160.45 L264.59,160.83 L265.54,161.17 L266.50,161.47 L267.47,161.72 L268.45,161.93 L269.43,162.08 L270.42,162.17 L271.42,162.22 L272.42,162.24 L273.42,162.24 L274.43,162.23 L275.43,162.23 L276.44,162.24 L277.44,162.28 L278.44,162.37 L279.44,162.49 L280.43,162.65 L281.42,162.86 L282.39,163.10 L283.35,163.39 L284.30,163.72 L285.23,164.09 L286.15,164.49 L287.05,164.93 L287.93,165.40 L288.80,165.90 L289.66,166.43 L290.50,166.99 L291.33,167.56 L292.14,168.15 L292.95,168.74 L293.76,169.33 L294.58,169.91 L295.42,170.46 L296.27,170.98 L297.15,171.45 L298.06,171.88 L298.99,172.25 L299.95,172.58 L300.92,172.85 L301.90,173.08 L302.89,173.25 L303.89,173.37 L304.89,173.44 L305.89,173.48 L306.90,173.49 L307.90,173.49 L308.90,173.50 L309.90,173.51 L310.90,173.55 L311.90,173.62 L312.89,173.73 L313.88,173.90 L314.86,174.12 L315.83,174.39 L316.79,174.70 L317.73,175.07 L318.65,175.48 L319.55,175.93 L320.42,176.41 L321.27,176.93 L322.11,177.48 L322.94,178.04 L323.76,178.61 L324.59,179.18 L325.41,179.75 L326.25,180.30 L327.11,180.83 L327.98,181.33 L328.87,181.80 L329.78,182.24 L330.71,182.64 L331.65,183.00 L332.60,183.33 L333.57,183.61 L334.54,183.84 L335.52,184.03 L336.51,184.17 L337.50,184.28 L338.50,184.35 L339.50,184.40 L340.50,184.43 L341.50,184.46 L342.51,184.49 L343.51,184.53 L344.51,184.59 L345.51,184.67 L346.51,184.79 L347.50,184.94 L348.49,185.13 L349.47,185.35 L350.44,185.61 L351.40,185.89 L352.35,186.21 L353.30,186.55 L354.23,186.92 L355.15,187.31 L356.06,187.72 L356.97,188.15 L357.86,188.59 L358.76,189.04 L359.66,189.48 L360.55,189.93 L361.46,190.37 L362.37,190.79 L363.28,191.21 L364.21,191.60 L365.14,191.98 L366.08,192.33 L367.03,192.67 L367.98,192.97 L368.94,193.25 L369.90,193.50 L370.88,193.72 L371.85,193.91 L372.84,194.07 L373.83,194.21 L374.82,194.33 L375.81,194.43 L376.82,194.52 L377.82,194.60 L378.83,194.66 L379.84,194.73 L380.85,194.79 L381.86,194.86 L382.87,194.93 L383.88,195.03 L384.87,195.16 L385.86,195.32 L386.83,195.52 L387.79,195.77 L388.72,196.08 L389.64,196.44 L390.55,196.84 L391.45,197.28 L392.34,197.74 L393.22,198.22 L394.11,198.71 L395.00,199.20 L395.89,199.68 L396.80,200.15 L397.71,200.59 L398.64,201.01 L399.57,201.39 L400.52,201.74 L401.47,202.05 L402.43,202.32 L403.40,202.53 L404.37,202.69 L405.36,202.80 L406.35,202.87 L407.34,202.89 L408.34,202.90 L409.35,202.88 L410.35,202.85 L411.36,202.82 L412.37,202.79 L413.38,202.78 L414.39,202.79 L415.40,202.84 L416.40,202.92 L417.41,203.03 L418.40,203.18 L419.39,203.36 L420.37,203.57 L421.35,203.82 L422.31,204.10 L423.26,204.42 L424.20,204.76 L425.12,205.14 L426.04,205.54 L426.95,205.96 L427.85,206.39 L428.75,206.82 L429.66,207.25 L430.57,207.67 L431.49,208.08 L432.42,208.45 L433.37,208.80 L434.33,209.12 L435.30,209.40 L436.27,209.65 L437.26,209.86 L438.25,210.02 L439.24,210.13 L440.24,210.20 L441.23,210.22 L442.23,210.20 L443.23,210.15 L444.23,210.08 L445.23,210.00 L446.23,209.92 L447.23,209.85 L448.23,209.79 L449.24,209.77 L450.24,209.79 L451.25,209.84 L452.25,209.93 L453.24,210.06 L454.24,210.22 L455.22,210.42 L456.20,210.66 L457.16,210.93 L458.12,211.24 L459.06,211.57 L459.99,211.93 L460.92,212.31 L461.84,212.70 L462.76,213.09 L463.68,213.49 L464.60,213.89 L465.53,214.28 L466.46,214.65 L467.39,215.01 L468.33,215.35 L469.28,215.68 L470.24,215.98 L471.20,216.26 L472.17,216.52 L473.14,216.75 L474.13,216.96 L475.12,217.13 L476.12,217.26 L477.12,217.35 L478.13,217.39 L479.13,217.38 L480.13,217.30 L481.12,217.16 L482.11,216.97 L483.10,216.76 L484.09,216.53 L485.07,216.30 L486.05,216.10 L487.04,215.94 L488.02,215.84 L489.01,215.81 L489.99,215.87 L490.98,215.99 L491.96,216.19 L492.94,216.44 L493.91,216.74 L494.87,217.08 L495.82,217.45 L496.77,217.85 L497.70,218.25 L498.62,218.67 L499.53,219.08 L500.44,219.49 L501.36,219.89 L502.28,220.27 L503.21,220.62 L504.15,220.95 L505.11,221.25 L506.08,221.50 L507.07,221.71 L508.07,221.88 L509.08,222.00 L510.08,222.06 L511.09,222.07 L512.09,222.03 L513.08,221.92 L514.07,221.75 L515.04,221.55 L516.01,221.31 L516.98,221.06 L517.96,220.80 L518.93,220.56 L519.92,220.34 L520.91,220.17 L521.91,220.04 L522.91,219.96 L523.91,219.93 L524.91,219.97 L525.90,220.06 L526.89,220.22 L527.86,220.44 L528.83,220.71 L529.78,221.02 L530.73,221.38 L531.66,221.78 L532.59,222.20 L533.50,222.65 L534.40,223.12 L535.30,223.60 L536.19,224.08 L537.08,224.55 L537.98,224.99 L538.89,225.40 L539.82,225.76 L540.76,226.06 L541.72,226.30 L542.71,226.47 L543.71,226.56 L544.72,226.58 L545.73,226.53 L546.74,226.41 L547.74,226.23 L548.73,225.97 L549.71,225.66 L550.67,225.32 L551.62,224.96 L552.57,224.59 L553.52,224.25 L554.47,223.94 L555.42,223.68 L556.38,223.50 L557.35,223.41 L558.33,223.43 L559.32,223.54 L560.31,223.73 L561.29,224.00 L562.26,224.34 L563.21,224.73 L564.14,225.16 L565.04,225.63 L565.92,226.12 L566.79,226.62 L567.64,227.13 L568.50,227.64 L569.36,228.14 L570.23,228.62 L571.12,229.07 L572.04,229.49 L572.99,229.87 L573.96,230.19 L574.94,230.45 L575.94,230.64 L576.94,230.76 L577.94,230.80 L578.92,230.74 L579.89,230.59 L580.85,230.36 L581.79,230.06 L582.73,229.70 L583.65,229.29 L584.58,228.84 L585.49,228.38 L586.41,227.90 L587.33,227.42 L588.25,226.96 L589.18,226.53 L590.12,226.14 L591.07,225.83 L592.03,225.59 L593.00,225.45 L594.00,225.43 L595.00,225.52 L596.00,225.71 L596.98,225.99 L597.93,226.36 L598.84,226.79 L599.70,227.29 L600.51,227.85 L601.29,228.45 L602.05,229.08 L602.80,229.74 L603.55,230.42 L604.30,231.11 L605.07,231.81 L605.87,232.49 L606.70,233.16 L607.55,233.78 L608.43,234.33 L609.33,234.80 L610.26,235.17 L611.20,235.40 L612.16,235.50 L613.13,235.43 L614.10,235.23 L615.06,234.90 L616.01,234.47 L616.92,233.95 L617.80,233.37 L618.62,232.73 L619.39,232.07 L620.10,231.38 L620.79,230.67 L621.46,229.95 L622.12,229.22 L622.80,228.48 L623.50,227.74 L624.25,227.01 L625.06,226.30 L625.90,225.65 L626.78,225.09 L627.70,224.66 L628.63,224.40 L629.57,224.34 L630.52,224.50 L631.46,224.84 L632.37,225.33 L633.25,225.93 L634.07,226.62 L634.83,227.34 L635.51,228.09 L636.13,228.85 L636.69,229.64 L637.21,230.44 L637.70,231.28 L638.16,232.14 L638.62,233.03 L639.07,233.95 L639.53,234.91 L640.01,235.91 L640.51,236.94 L641.06,237.99 L641.63,239.01 L642.24,239.99 L642.89,240.89 L643.59,241.68 L644.32,242.33 L645.11,242.81 L645.94,243.10 L646.82,243.17 L647.74,242.99 L648.68,242.61 L649.59,242.07 L650.43,241.41 L651.18,240.66 L651.82,239.86 L652.37,239.00 L652.83,238.10 L653.23,237.17 L653.57,236.21 L653.86,235.24 L654.12,234.26 L654.36,233.27 L654.59,232.30 L654.82,231.34 L655.07,230.40 L655.32,229.47 L655.60,228.56 L655.90,227.66 L656.22,226.76 L656.58,225.87 L656.97,224.97 L657.40,224.08 L657.88,223.17 L658.40,222.26 L658.97,221.33 L659.60,220.39 L660.29,219.43 L661.04,218.48 L661.82,217.60 L662.63,216.87 L663.44,216.35 L664.25,216.10 L665.03,216.20 L665.78,216.64 L666.48,217.36 L667.13,218.26 L667.72,219.26 L668.25,220.30 L668.71,221.32 L669.11,222.32 L669.46,223.31 L669.76,224.29 L670.01,225.26 L670.24,226.22 L670.43,227.18 L670.60,228.13 L670.75,229.08 L670.89,230.03 L671.02,230.99 L671.16,231.94 L671.30,232.91 L671.46,233.87 L671.63,234.85 L671.81,235.84 L672.01,236.82 L672.22,237.81 L672.44,238.81 L672.67,239.80 L672.91,240.79 L673.16,241.78 L673.41,242.77 L673.66,243.74 L673.91,244.71 L674.17,245.68 L674.42,246.63 L674.68,247.56 L674.92,248.49 L675.17,249.39 L675.40,250.29 L675.64,251.18 L675.87,252.07 L676.09,252.95 L676.31,253.83 L676.52,254.73 L676.74,255.63 L676.94,256.54 L677.15,257.47 L677.35,258.42 L677.55,259.39 L677.74,260.39 L677.93,261.42 L678.12,262.48 L678.31,263.59 L678.49,264.73 L678.67,265.91 L678.85,267.15 L679.03,268.43 L679.20,269.75 L679.38,271.09 L679.55,272.44 L679.73,273.80 L679.90,275.14 L680.08,276.46 L680.26,277.74 L680.44,278.98 L680.63,280.15 L680.82,281.25 L681.01,282.27 L681.21,283.19 L681.42,284.00 L681.63,284.69 L681.84,285.25 L682.07,285.66 L682.30,285.92 L682.54,286.01 L682.79,285.91 L683.05,285.65 L683.31,285.22 L683.58,284.64 L683.85,283.93 L684.13,283.10 L684.41,282.16 L684.69,281.12 L684.97,280.01 L685.25,278.83 L685.52,277.59 L685.79,276.31 L686.06,275.01 L686.32,273.69 L686.57,272.36 L686.81,271.06 L687.04,269.77 L687.26,268.53 L687.47,267.31 L687.67,266.13 L687.86,264.98 L688.04,263.86 L688.21,262.77 L688.37,261.70 L688.52,260.66 L688.67,259.64 L688.81,258.64 L688.94,257.66 L689.07,256.69 L689.19,255.75 L689.31,254.81 L689.42,253.89 L689.53,252.98 L689.63,252.07 L689.74,251.17 L689.83,250.28 L689.93,249.39 L690.03,248.50 L690.12,247.62 L690.22,246.73 L690.31,245.83 L690.40,244.93 L690.50,244.02 L690.59,243.11 L690.69,242.18 L690.79,241.25 L690.89,240.31 L690.99,239.36 L691.09,238.41 L691.19,237.44 L691.29,236.47 L691.40,235.50 L691.50,234.51 L691.61,233.52 L691.71,232.53 L691.82,231.53 L691.92,230.52 L692.03,229.51 L692.14,228.50 L692.24,227.48 L692.35,226.46 L692.45,225.44 L692.56,224.41 L692.66,223.38 L692.77,222.34 L692.87,221.31 L692.98,220.27 L693.08,219.23 L693.18,218.19 L693.29,217.15 L693.39,216.11 L693.49,215.06 L693.59,214.02 L693.69,212.98 L693.78,211.94 L693.88,210.90 L693.98,209.87 L694.08,208.83 L694.17,207.80 L694.27,206.77 L694.37,205.74 L694.46,204.72 L694.56,203.70 L694.66,202.69 L694.75,201.68 L694.85,200.68 L694.95,199.68 L695.05,198.69 L695.14,197.71 L695.24,196.73 L695.34,195.76 L695.45,194.80 L695.55,193.85 L695.65,192.91 L695.75,191.97 L695.86,191.05 L695.97,190.13 L696.07,189.23 L696.18,188.33 L696.29,187.45 L696.41,186.57 L696.52,185.69 L696.64,184.82 L696.76,183.94 L696.89,183.07 L697.02,182.18 L697.16,181.29 L697.31,180.39 L697.46,179.48 L697.61,178.55 L697.78,177.60 L697.95,176.63 L698.13,175.64 L698.32,174.63 L698.52,173.58 L698.73,172.51 L698.95,171.40 L699.19,170.26 L699.43,169.08 L699.69,167.87 L699.96,166.61 L700.24,165.30 L700.53,163.98 L700.84,162.66 L701.15,161.37 L701.48,160.15 L701.81,159.01 L702.15,157.98 L702.50,157.10 L702.85,156.38 L703.20,155.86 L703.55,155.56 L703.91,155.51 L704.27,155.72 L704.62,156.17 L704.97,156.82 L705.32,157.65 L705.65,158.63 L705.98,159.73 L706.31,160.93 L706.61,162.20 L706.91,163.51 L707.19,164.84 L707.45,166.15 L707.70,167.43 L707.92,168.66 L708.14,169.86 L708.33,171.01 L708.51,172.13 L708.67,173.21 L708.82,174.27 L708.96,175.29 L709.09,176.29 L709.20,177.26 L709.31,178.22 L709.40,179.15 L709.49,180.07 L709.57,180.98 L709.64,181.87 L709.71,182.76 L709.77,183.64 L709.83,184.51 L709.88,185.38 L709.93,186.26 L709.98,187.13 L710.03,188.02 L710.08,188.91 L710.12,189.81 L710.17,190.71 L710.22,191.62 L710.26,192.53 L710.31,193.46 L710.36,194.38 L710.40,195.32 L710.45,196.26 L710.49,197.20 L710.54,198.15 L710.58,199.11 L710.62,200.07 L710.67,201.04 L710.71,202.01 L710.75,202.99 L710.80,203.97 L710.84,204.95 L710.88,205.94 L710.92,206.93 L710.97,207.93 L711.01,208.93 L711.05,209.94 L711.09,210.95 L711.13,211.96 L711.18,212.97 L711.22,213.99 L711.26,215.01 L711.30,216.04 L711.34,217.07 L711.38,218.10 L711.43,219.13 L711.47,220.17 L711.51,221.20 L711.55,222.24 L711.60,223.28 L711.64,224.33 L711.68,225.37 L711.72,226.42 L711.77,227.47 L711.81,228.51 L711.85,229.56 L711.90,230.62 L711.94,231.67 L711.99,232.72 L712.03,233.77 L712.07,234.83 L712.12,235.88 L712.17,236.94 L712.21,237.99 L712.26,239.04 L712.30,240.10 L712.35,241.15 L712.40,242.20 L712.45,243.26 L712.49,244.31 L712.54,245.36 L712.59,246.41 L712.64,247.45 L712.69,248.50 L712.74,249.55 L712.79,250.59 L712.84,251.63 L712.89,252.67 L712.94,253.71 L712.99,254.75 L713.03,255.78 L713.08,256.81 L713.13,257.84 L713.18,258.87 L713.23,259.89 L713.28,260.91 L713.33,261.93 L713.37,262.94 L713.42,263.95 L713.47,264.96 L713.52,265.96 L713.56,266.96 L713.61,267.96 L713.65,268.95 L713.70,269.94 L713.74,270.92 L713.78,271.90 L713.83,272.88 L713.87,273.85 L713.91,274.82 L713.95,275.78 L713.99,276.73 L714.03,277.68 L714.07,278.63 L714.10,279.57 L714.14,280.50 L714.17,281.43 L714.21,282.35 L714.24,283.27 L714.27,284.18 L714.30,285.09 L714.33,285.99 L714.36,286.88 L714.39,287.77 L714.41,288.65 L714.44,289.53 L714.46,290.41 L714.49,291.29 L714.51,292.16 L714.53,293.04 L714.55,293.91 L714.57,294.79 L714.59,295.66 L714.61,296.54 L714.63,297.43 L714.64,298.31 L714.66,299.20 L714.68,300.10 L714.69,301.00 L714.71,301.91 L714.72,302.82 L714.73,303.75 L714.75,304.68 L714.76,305.62 L714.77,306.57 L714.78,307.54 L714.80,308.51 L714.81,309.50 L714.82,310.50 L714.83,311.51 L714.84,312.54 L714.85,313.58 L714.86,314.64 L714.87,315.72 L714.88,316.81 L714.89,317.92 L714.90,319.05 L714.91,320.20 L714.92,321.37 L714.93,322.56 L714.94,323.78 L714.96,325.01 L714.97,326.27 L714.98,327.55 L714.99,328.86 L715.00,330.19 L715.01,331.54 L715.03,332.92 L715.04,334.30 L715.05,335.70 L715.07,337.09 L715.08,338.47 L715.10,339.84 L715.11,341.19 L715.13,342.52 L715.14,343.81 L715.16,345.07 L715.17,346.28 L715.19,347.44 L715.20,348.54 L715.22,349.57 L715.24,350.54 L715.26,351.42 L715.27,352.23 L715.29,352.95 L715.31,353.56 L715.33,354.08 L715.35,354.49 L715.36,354.78 L715.38,354.95 L715.40,355.00 L715.42,354.91 L715.44,354.70 L715.46,354.37 L715.48,353.92 L715.50,353.37 L715.52,352.72 L715.54,351.97 L715.56,351.14 L715.58,350.22 L715.60,349.23 L715.63,348.17 L715.65,347.05 L715.67,345.88 L715.69,344.65 L715.71,343.39 L715.73,342.08 L715.75,340.75 L715.77,339.39 L715.79,338.01 L715.81,336.63 L715.83,335.24 L715.85,333.85 L715.87,332.46 L715.88,331.10 L715.90,329.75 L715.92,328.43 L715.94,327.13 L715.96,325.86 L715.98,324.61 L715.99,323.39 L716.01,322.19 L716.03,321.01 L716.04,319.84 L716.06,318.70 L716.08,317.58 L716.09,316.48 L716.11,315.40 L716.12,314.33 L716.14,313.28 L716.16,312.24 L716.17,311.22 L716.19,310.21 L716.20,309.22 L716.22,308.24 L716.23,307.27 L716.25,306.31 L716.26,305.36 L716.27,304.43 L716.29,303.50 L716.30,302.58 L716.32,301.67 L716.33,300.76 L716.35,299.86 L716.36,298.97 L716.38,298.08 L716.39,297.19 L716.41,296.31 L716.42,295.43 L716.44,294.55 L716.45,293.67 L716.47,292.80 L716.48,291.92 L716.50,291.04 L716.51,290.16 L716.53,289.27 L716.54,288.39 L716.56,287.50 L716.57,286.60 L716.59,285.70 L716.60,284.79 L716.62,283.88 L716.64,282.95 L716.65,282.03 L716.67,281.09 L716.69,280.15 L716.70,279.20 L716.72,278.25 L716.74,277.29 L716.76,276.33 L716.77,275.36 L716.79,274.39 L716.81,273.41 L716.83,272.43 L716.85,271.44 L716.87,270.45 L716.89,269.46 L716.91,268.46 L716.93,267.45 L716.96,266.45 L716.98,265.44 L717.00,264.43 L717.02,263.41 L717.05,262.39 L717.07,261.37 L717.09,260.35 L717.12,259.33 L717.14,258.30 L717.17,257.27 L717.20,256.24 L717.22,255.21 L717.25,254.18 L717.28,253.15 L717.31,252.11 L717.34,251.08 L717.37,250.05 L717.40,249.01 L717.43,247.98 L717.46,246.94 L717.50,245.91 L717.53,244.88 L717.57,243.84 L717.60,242.81 L717.64,241.78 L717.67,240.75 L717.71,239.73 L717.75,238.70 L717.79,237.68 L717.83,236.66 L717.87,235.64 L717.91,234.62 L717.95,233.60 L717.99,232.59 L718.03,231.57 L718.08,230.56 L718.12,229.55 L718.17,228.54 L718.21,227.53 L718.26,226.52 L718.30,225.51 L718.35,224.51 L718.39,223.50 L718.44,222.50 L718.49,221.50 L718.53,220.50 L718.58,219.50 L718.63,218.50 L718.68,217.50 L718.72,216.50 L718.77,215.50 L718.82,214.51 L718.87,213.51 L718.92,212.52 L718.96,211.52 L719.01,210.53 L719.06,209.53 L719.11,208.54 L719.15,207.55 L719.20,206.56 L719.25,205.57 L719.29,204.57 L719.34,203.58 L719.39,202.59 L719.43,201.60 L719.48,200.61 L719.52,199.62 L719.57,198.63 L719.61,197.64 L719.65,196.64 L719.70,195.65 L719.74,194.66 L719.78,193.67 L719.82,192.68 L719.86,191.69 L719.90,190.69 L719.94,189.70 L719.98,188.71 L720.02,187.72 L720.06,186.72 L720.09,185.73 L720.13,184.73 L720.16,183.74 L720.19,182.74 L720.23,181.74 L720.26,180.74 L720.29,179.75 L720.32,178.75 L720.35,177.75 L720.38,176.75 L720.41,175.75 L720.44,174.75 L720.47,173.75 L720.50,172.75 L720.53,171.75 L720.56,170.75 L720.59,169.75 L720.62,168.75 L720.65,167.74 L720.68,166.74 L720.71,165.74 L720.74,164.74 L720.77,163.74 L720.80,162.73 L720.83,161.73 L720.86,160.73 L720.89,159.73 L720.93,158.72 L720.96,157.72 L721.00,156.72 L721.03,155.72 L721.07,154.71 L721.11,153.71 L721.14,152.71 L721.18,151.71 L721.22,150.71 L721.27,149.71 L721.31,148.71 L721.35,147.70 L721.40,146.70 L721.45,145.70 L721.49,144.70 L721.54,143.70 L721.59,142.70 L721.64,141.70 L721.69,140.70 L721.74,139.70 L721.80,138.70 L721.85,137.71 L721.91,136.71 L721.96,135.71 L722.02,134.71 L722.08,133.71 L722.14,132.71 L722.20,131.71 L722.26,130.71 L722.32,129.71 L722.38,128.71 L722.44,127.72 L722.50,126.72 L722.57,125.72 L722.63,124.72 L722.70,123.72 L722.77,122.72 L722.84,121.72 L722.91,120.73 L722.98,119.73 L723.05,118.73 L723.12,117.73 L723.20,116.73 L723.27,115.73 L723.35,114.74 L723.43,113.74 L723.51,112.74 L723.59,111.74 L723.68,110.74 L723.76,109.75 L723.85,108.75 L723.94,107.75 L724.03,106.75 L724.12,105.76 L724.22,104.76 L724.31,103.76 L724.41,102.77 L724.51,101.77 L724.62,100.77 L724.72,99.78 L724.83,98.78 L724.94,97.79 L725.05,96.79 L725.17,95.79 L725.29,94.80 L725.40,93.80 L725.52,92.81 L725.65,91.82 L725.77,90.82 L725.90,89.83 L726.02,88.84 L726.15,87.84 L726.28,86.85 L726.42,85.86 L726.55,84.87 L726.68,83.88 L726.82,82.89 L726.96,81.91 L727.10,80.92 L727.25,79.93 L727.40,78.94 L727.55,77.96 L727.71,76.97 L727.87,75.98 L728.04,75.00 L728.22,74.01 L728.40,73.02 L728.59,72.03 L728.79,71.04 L728.99,70.05 L729.21,69.06 L729.44,68.08 L729.70,67.10 L729.97,66.13 L730.27,65.17 L730.60,64.22 L730.97,63.29 L731.38,62.38 L731.84,61.50 L732.34,60.63 L732.89,59.80 L733.50,59.00" stroke="#ff8000" stroke-width="2.3" stroke-dasharray="4.4 4" stroke-dashoffset="2.99"/>
<path d="M113.30,180.00 L113.47,180.99 L113.63,181.98 L113.76,182.97 L113.89,183.96 L114.00,184.96 L114.09,185.95 L114.18,186.95 L114.26,187.95 L114.34,188.95 L114.41,189.95 L114.47,190.94 L114.54,191.94 L114.61,192.94 L114.67,193.94 L114.75,194.94 L114.82,195.94 L114.90,196.94 L114.99,197.94 L115.07,198.93 L115.16,199.93 L115.25,200.93 L115.34,201.93 L115.42,202.92 L115.51,203.92 L115.59,204.92 L115.67,205.92 L115.75,206.91 L115.83,207.91 L115.91,208.91 L115.99,209.91 L116.06,210.91 L116.14,211.91 L116.22,212.90 L116.30,213.90 L116.39,214.90 L116.47,215.90 L116.56,216.89 L116.66,217.89 L116.76,218.89 L116.87,219.88 L116.98,220.88 L117.09,221.87 L117.21,222.86 L117.33,223.86 L117.46,224.85 L117.58,225.84 L117.71,226.84 L117.84,227.83 L117.98,228.82 L118.11,229.82 L118.24,230.81 L118.38,231.81 L118.51,232.80 L118.64,233.79 L118.76,234.78 L118.88,235.76 L119.00,236.75 L119.11,237.74 L119.22,238.72 L119.33,239.71 L119.43,240.70 L119.54,241.69 L119.64,242.69 L119.74,243.69 L119.84,244.70 L119.94,245.72 L120.04,246.74 L120.15,247.77 L120.25,248.80 L120.35,249.83 L120.46,250.86 L120.56,251.89 L120.67,252.90 L120.78,253.91 L120.89,254.89 L121.00,255.86 L121.11,256.81 L121.23,257.73 L121.34,258.63 L121.46,259.50 L121.58,260.36 L121.71,261.22 L121.83,262.10 L121.96,263.01 L122.09,263.96 L122.22,264.97 L122.36,266.04 L122.50,267.20 L122.64,268.46 L122.79,269.82 L122.94,271.25 L123.13,272.65 L123.36,273.95 L123.64,275.05 L123.99,275.87 L124.43,276.32 L124.97,276.31 L125.61,275.81 L126.28,274.96 L126.89,273.97 L127.38,272.98 L127.77,271.99 L128.06,271.01 L128.28,270.02 L128.43,269.04 L128.53,268.06 L128.59,267.08 L128.63,266.10 L128.66,265.12 L128.68,264.14 L128.73,263.15 L128.79,262.17 L128.87,261.18 L128.97,260.18 L129.08,259.19 L129.20,258.19 L129.33,257.20 L129.47,256.20 L129.60,255.20 L129.74,254.20 L129.88,253.20 L130.01,252.21 L130.14,251.21 L130.26,250.21 L130.38,249.22 L130.49,248.22 L130.60,247.23 L130.71,246.23 L130.82,245.24 L130.93,244.24 L131.04,243.25 L131.15,242.26 L131.27,241.26 L131.39,240.27 L131.51,239.28 L131.64,238.29 L131.77,237.30 L131.91,236.30 L132.05,235.31 L132.19,234.32 L132.34,233.33 L132.49,232.34 L132.64,231.35 L132.79,230.36 L132.94,229.37 L133.10,228.38 L133.25,227.39 L133.41,226.40 L133.57,225.41 L133.73,224.42 L133.89,223.43 L134.05,222.45 L134.21,221.46 L134.36,220.47 L134.52,219.48 L134.67,218.49 L134.82,217.50 L134.97,216.51 L135.12,215.52 L135.27,214.53 L135.41,213.54 L135.56,212.55 L135.71,211.56 L135.85,210.57 L136.00,209.58 L136.15,208.59 L136.30,207.60 L136.45,206.61 L136.60,205.62 L136.76,204.63 L136.92,203.64 L137.08,202.65 L137.25,201.66 L137.42,200.68 L137.60,199.69 L137.78,198.71 L137.97,197.72 L138.17,196.74 L138.37,195.76 L138.59,194.79 L138.81,193.81 L139.05,192.84 L139.29,191.87 L139.53,190.90 L139.78,189.93 L140.03,188.96 L140.28,187.99 L140.52,187.02 L140.76,186.05 L140.99,185.07 L141.21,184.09 L141.43,183.11 L141.63,182.12 L141.84,181.13 L142.05,180.15 L142.28,179.17 L142.53,178.20 L142.81,177.24 L143.13,176.29 L143.50,175.36 L143.92,174.45 L144.41,173.56 L144.95,172.70 L145.55,171.88 L146.21,171.10 L146.92,170.38 L147.69,169.72 L148.50,169.13 L149.35,168.62 L150.25,168.18 L151.17,167.80 L152.12,167.45 L153.07,167.12 L154.02,166.79 L154.97,166.45 L155.90,166.07 L156.80,165.65 L157.67,165.16 L158.51,164.62 L159.31,164.03 L160.09,163.40 L160.85,162.73 L161.59,162.04 L162.31,161.32 L163.02,160.60 L163.71,159.86 L164.40,159.12 L165.08,158.38 L165.75,157.64 L166.42,156.89 L167.08,156.15 L167.74,155.40 L168.39,154.65 L169.05,153.90 L169.71,153.15 L170.38,152.41 L171.06,151.68 L171.75,150.96 L172.47,150.27 L173.22,149.59 L173.99,148.95 L174.81,148.34 L175.67,147.76 L176.56,147.24 L177.49,146.78 L178.45,146.41 L179.41,146.15 L180.38,146.01 L181.35,146.03 L182.30,146.18 L183.25,146.44 L184.20,146.80 L185.14,147.22 L186.07,147.68 L187.01,148.15 L187.94,148.62 L188.88,149.07 L189.82,149.49 L190.75,149.87 L191.70,150.21 L192.65,150.51 L193.61,150.74 L194.57,150.92 L195.55,151.02 L196.54,151.05 L197.53,151.01 L198.53,150.91 L199.53,150.75 L200.52,150.54 L201.51,150.28 L202.49,149.98 L203.45,149.64 L204.41,149.28 L205.35,148.90 L206.29,148.54 L207.23,148.21 L208.18,147.93 L209.15,147.72 L210.13,147.61 L211.14,147.58 L212.15,147.64 L213.15,147.78 L214.15,147.99 L215.13,148.27 L216.09,148.61 L217.01,149.01 L217.91,149.45 L218.78,149.94 L219.64,150.45 L220.49,150.97 L221.34,151.51 L222.18,152.05 L223.04,152.58 L223.90,153.10 L224.79,153.58 L225.69,154.04 L226.62,154.46 L227.55,154.84 L228.50,155.19 L229.46,155.48 L230.43,155.73 L231.41,155.93 L232.39,156.08 L233.38,156.17 L234.38,156.22 L235.38,156.23 L236.38,156.22 L237.38,156.19 L238.39,156.15 L239.40,156.12 L240.42,156.09 L241.43,156.08 L242.44,156.10 L243.45,156.15 L244.44,156.25 L245.43,156.39 L246.41,156.59 L247.36,156.85 L248.30,157.18 L249.23,157.56 L250.14,157.98 L251.04,158.44 L251.92,158.93 L252.80,159.44 L253.67,159.96 L254.52,160.48 L255.38,161.01 L256.23,161.53 L257.08,162.05 L257.94,162.57 L258.80,163.07 L259.68,163.55 L260.56,164.02 L261.46,164.47 L262.37,164.90 L263.31,165.30 L264.25,165.66 L265.21,165.99 L266.17,166.27 L267.15,166.51 L268.13,166.70 L269.12,166.84 L270.11,166.92 L271.11,166.95 L272.11,166.94 L273.11,166.91 L274.11,166.86 L275.11,166.82 L276.12,166.79 L277.13,166.79 L278.13,166.82 L279.13,166.90 L280.13,167.01 L281.13,167.17 L282.11,167.37 L283.08,167.61 L284.04,167.90 L284.99,168.22 L285.92,168.59 L286.84,169.00 L287.74,169.44 L288.63,169.91 L289.50,170.41 L290.36,170.94 L291.21,171.48 L292.04,172.04 L292.87,172.61 L293.69,173.18 L294.52,173.73 L295.37,174.27 L296.23,174.77 L297.12,175.24 L298.03,175.66 L298.97,176.03 L299.92,176.36 L300.89,176.64 L301.87,176.87 L302.86,177.04 L303.86,177.16 L304.85,177.24 L305.86,177.28 L306.86,177.29 L307.86,177.30 L308.86,177.30 L309.87,177.31 L310.87,177.35 L311.87,177.41 L312.86,177.53 L313.85,177.69 L314.83,177.91 L315.80,178.18 L316.76,178.49 L317.70,178.85 L318.62,179.26 L319.52,179.71 L320.39,180.20 L321.24,180.72 L322.08,181.26 L322.91,181.82 L323.74,182.39 L324.56,182.96 L325.39,183.53 L326.23,184.08 L327.08,184.61 L327.95,185.12 L328.84,185.59 L329.75,186.03 L330.68,186.43 L331.62,186.79 L332.57,187.12 L333.54,187.40 L334.51,187.64 L335.49,187.82 L336.48,187.97 L337.47,188.07 L338.47,188.14 L339.47,188.19 L340.47,188.22 L341.47,188.25 L342.48,188.27 L343.48,188.31 L344.48,188.36 L345.48,188.44 L346.48,188.56 L347.47,188.71 L348.46,188.89 L349.44,189.11 L350.41,189.36 L351.38,189.64 L352.33,189.96 L353.28,190.30 L354.21,190.66 L355.13,191.05 L356.04,191.46 L356.95,191.89 L357.85,192.33 L358.75,192.77 L359.64,193.22 L360.54,193.66 L361.45,194.10 L362.36,194.52 L363.27,194.93 L364.20,195.33 L365.13,195.70 L366.07,196.06 L367.02,196.39 L367.97,196.69 L368.93,196.97 L369.90,197.21 L370.87,197.43 L371.85,197.61 L372.84,197.77 L373.83,197.91 L374.82,198.02 L375.82,198.11 L376.82,198.20 L377.82,198.26 L378.83,198.32 L379.84,198.38 L380.86,198.43 L381.87,198.49 L382.88,198.56 L383.88,198.65 L384.88,198.76 L385.87,198.91 L386.84,199.11 L387.80,199.35 L388.74,199.65 L389.66,200.00 L390.57,200.40 L391.47,200.83 L392.37,201.28 L393.26,201.76 L394.15,202.24 L395.04,202.72 L395.94,203.20 L396.85,203.65 L397.77,204.09 L398.70,204.49 L399.64,204.87 L400.59,205.21 L401.54,205.51 L402.50,205.76 L403.48,205.96 L404.45,206.11 L405.44,206.20 L406.43,206.26 L407.42,206.27 L408.43,206.26 L409.43,206.23 L410.44,206.19 L411.44,206.15 L412.45,206.11 L413.46,206.09 L414.47,206.10 L415.48,206.14 L416.49,206.21 L417.49,206.32 L418.49,206.46 L419.48,206.64 L420.46,206.85 L421.44,207.10 L422.40,207.38 L423.35,207.69 L424.29,208.03 L425.22,208.41 L426.13,208.80 L427.04,209.22 L427.95,209.64 L428.85,210.07 L429.76,210.49 L430.68,210.91 L431.60,211.30 L432.54,211.67 L433.49,212.01 L434.45,212.31 L435.42,212.59 L436.40,212.82 L437.39,213.01 L438.38,213.16 L439.38,213.26 L440.37,213.31 L441.37,213.32 L442.37,213.29 L443.37,213.22 L444.37,213.15 L445.37,213.06 L446.37,212.97 L447.37,212.89 L448.37,212.84 L449.37,212.81 L450.38,212.83 L451.38,212.88 L452.39,212.97 L453.38,213.10 L454.38,213.26 L455.36,213.46 L456.34,213.70 L457.30,213.97 L458.25,214.28 L459.19,214.62 L460.13,214.98 L461.05,215.36 L461.98,215.75 L462.90,216.15 L463.82,216.55 L464.74,216.94 L465.66,217.33 L466.59,217.70 L467.53,218.06 L468.47,218.40 L469.42,218.72 L470.37,219.03 L471.34,219.30 L472.31,219.56 L473.29,219.79 L474.28,219.99 L475.27,220.15 L476.27,220.28 L477.27,220.36 L478.27,220.39 L479.28,220.37 L480.27,220.28 L481.27,220.13 L482.26,219.94 L483.25,219.72 L484.23,219.49 L485.22,219.27 L486.20,219.08 L487.18,218.92 L488.17,218.83 L489.15,218.81 L490.14,218.88 L491.12,219.02 L492.10,219.22 L493.08,219.48 L494.05,219.79 L495.01,220.14 L495.96,220.51 L496.91,220.91 L497.83,221.31 L498.75,221.73 L499.67,222.14 L500.58,222.55 L501.49,222.94 L502.42,223.32 L503.35,223.68 L504.29,224.00 L505.25,224.29 L506.23,224.53 L507.22,224.74 L508.22,224.90 L509.23,225.00 L510.24,225.06 L511.24,225.06 L512.24,225.00 L513.23,224.89 L514.22,224.71 L515.19,224.50 L516.16,224.25 L517.13,224.00 L518.10,223.74 L519.08,223.50 L520.06,223.29 L521.06,223.12 L522.06,222.99 L523.06,222.92 L524.06,222.90 L525.06,222.94 L526.05,223.05 L527.03,223.21 L528.01,223.44 L528.97,223.71 L529.93,224.03 L530.87,224.40 L531.81,224.79 L532.73,225.22 L533.64,225.67 L534.54,226.15 L535.44,226.63 L536.33,227.10 L537.23,227.56 L538.13,228.00 L539.04,228.40 L539.97,228.75 L540.91,229.04 L541.88,229.27 L542.87,229.42 L543.87,229.50 L544.88,229.51 L545.90,229.45 L546.91,229.31 L547.91,229.11 L548.89,228.85 L549.86,228.53 L550.82,228.18 L551.78,227.81 L552.73,227.45 L553.67,227.10 L554.62,226.80 L555.58,226.56 L556.54,226.39 L557.51,226.31 L558.49,226.34 L559.48,226.47 L560.47,226.68 L561.45,226.96 L562.42,227.30 L563.36,227.70 L564.29,228.14 L565.18,228.61 L566.06,229.11 L566.92,229.61 L567.78,230.13 L568.63,230.64 L569.49,231.13 L570.37,231.61 L571.26,232.06 L572.18,232.48 L573.13,232.85 L574.10,233.16 L575.09,233.41 L576.09,233.60 L577.09,233.71 L578.09,233.73 L579.07,233.66 L580.04,233.50 L580.99,233.26 L581.94,232.95 L582.87,232.58 L583.80,232.17 L584.72,231.72 L585.64,231.25 L586.56,230.77 L587.48,230.30 L588.40,229.84 L589.33,229.42 L590.27,229.05 L591.22,228.74 L592.19,228.53 L593.17,228.41 L594.16,228.40 L595.16,228.51 L596.16,228.72 L597.14,229.02 L598.08,229.40 L598.98,229.85 L599.83,230.36 L600.64,230.92 L601.41,231.53 L602.17,232.17 L602.92,232.83 L603.66,233.52 L604.42,234.21 L605.19,234.90 L605.99,235.59 L606.83,236.25 L607.69,236.86 L608.57,237.40 L609.48,237.86 L610.40,238.21 L611.35,238.42 L612.31,238.49 L613.28,238.40 L614.25,238.18 L615.21,237.83 L616.15,237.38 L617.06,236.85 L617.92,236.25 L618.74,235.61 L619.49,234.94 L620.20,234.24 L620.88,233.53 L621.55,232.81 L622.21,232.07 L622.89,231.33 L623.60,230.60 L624.36,229.86 L625.16,229.16 L626.01,228.51 L626.90,227.97 L627.81,227.55 L628.75,227.31 L629.69,227.28 L630.64,227.46 L631.58,227.82 L632.49,228.32 L633.36,228.94 L634.17,229.63 L634.92,230.36 L635.60,231.10 L636.21,231.87 L636.77,232.66 L637.28,233.47 L637.77,234.30 L638.23,235.17 L638.68,236.06 L639.13,236.99 L639.60,237.96 L640.08,238.96 L640.60,240.00 L641.14,241.04 L641.73,242.06 L642.35,243.02 L643.01,243.91 L643.71,244.67 L644.45,245.30 L645.25,245.75 L646.08,246.01 L646.97,246.03 L647.90,245.81 L648.83,245.40 L649.73,244.83 L650.56,244.15 L651.29,243.39 L651.91,242.58 L652.45,241.71 L652.90,240.81 L653.29,239.87 L653.62,238.91 L653.91,237.93 L654.16,236.95 L654.40,235.97 L654.63,234.99 L654.86,234.04 L655.11,233.10 L655.37,232.18 L655.64,231.27 L655.95,230.37 L656.28,229.47 L656.64,228.58 L657.04,227.68 L657.47,226.78 L657.95,225.88 L658.48,224.96 L659.06,224.03 L659.70,223.09 L660.39,222.12 L661.14,221.18 L661.92,220.31 L662.73,219.60 L663.55,219.11 L664.35,218.90 L665.13,219.05 L665.87,219.53 L666.57,220.28 L667.22,221.19 L667.80,222.21 L668.31,223.24 L668.75,224.26 L669.12,225.26 L669.44,226.25 L669.72,227.23 L669.94,228.20 L670.14,229.16 L670.30,230.12 L670.45,231.08 L670.58,232.03 L670.71,232.99 L670.83,233.95 L670.97,234.91 L671.12,235.88 L671.28,236.85 L671.47,237.83 L671.68,238.82 L671.90,239.81 L672.13,240.80 L672.38,241.79 L672.63,242.77 L672.89,243.76 L673.16,244.73 L673.43,245.71 L673.71,246.67 L673.98,247.62 L674.25,248.56 L674.51,249.49 L674.77,250.41 L675.02,251.31 L675.27,252.20 L675.51,253.08 L675.75,253.97 L675.97,254.85 L676.20,255.74 L676.42,256.64 L676.63,257.55 L676.85,258.48 L677.05,259.43 L677.26,260.39 L677.46,261.39 L677.66,262.42 L677.86,263.47 L678.05,264.57 L678.25,265.71 L678.44,266.89 L678.63,268.12 L678.82,269.40 L679.02,270.71 L679.21,272.04 L679.40,273.39 L679.60,274.73 L679.79,276.06 L679.99,277.36 L680.19,278.62 L680.39,279.84 L680.60,280.99 L680.81,282.06 L681.02,283.05 L681.24,283.94 L681.46,284.72 L681.68,285.37 L681.91,285.89 L682.15,286.25 L682.39,286.46 L682.64,286.49 L682.89,286.35 L683.15,286.03 L683.42,285.56 L683.68,284.95 L683.95,284.21 L684.22,283.35 L684.49,282.39 L684.77,281.33 L685.04,280.20 L685.30,279.00 L685.57,277.75 L685.83,276.46 L686.08,275.15 L686.33,273.82 L686.57,272.49 L686.80,271.17 L687.02,269.88 L687.23,268.63 L687.43,267.41 L687.63,266.22 L687.81,265.06 L687.99,263.94 L688.15,262.84 L688.31,261.77 L688.47,260.72 L688.61,259.70 L688.75,258.70 L688.89,257.72 L689.02,256.75 L689.14,255.80 L689.26,254.87 L689.37,253.95 L689.48,253.03 L689.59,252.13 L689.70,251.23 L689.80,250.34 L689.90,249.45 L690.00,248.57 L690.10,247.68 L690.20,246.79 L690.29,245.90 L690.39,245.00 L690.49,244.10 L690.59,243.19 L690.69,242.26 L690.79,241.33 L690.89,240.39 L691.00,239.45 L691.10,238.49 L691.20,237.53 L691.31,236.56 L691.42,235.58 L691.52,234.60 L691.63,233.61 L691.73,232.62 L691.84,231.62 L691.95,230.62 L692.05,229.61 L692.16,228.59 L692.26,227.57 L692.37,226.55 L692.47,225.53 L692.58,224.50 L692.68,223.47 L692.78,222.43 L692.88,221.39 L692.98,220.36 L693.08,219.32 L693.18,218.27 L693.28,217.23 L693.37,216.19 L693.47,215.14 L693.56,214.10 L693.65,213.06 L693.75,212.01 L693.84,210.97 L693.93,209.94 L694.02,208.90 L694.11,207.86 L694.20,206.83 L694.29,205.81 L694.38,204.78 L694.47,203.76 L694.57,202.75 L694.66,201.74 L694.76,200.74 L694.85,199.74 L694.95,198.75 L695.05,197.77 L695.15,196.79 L695.26,195.82 L695.36,194.86 L695.47,193.91 L695.58,192.96 L695.70,192.03 L695.82,191.11 L695.94,190.19 L696.06,189.29 L696.19,188.40 L696.32,187.52 L696.45,186.64 L696.59,185.77 L696.74,184.90 L696.89,184.03 L697.04,183.15 L697.20,182.26 L697.37,181.36 L697.55,180.45 L697.73,179.52 L697.92,178.56 L698.12,177.59 L698.33,176.59 L698.55,175.56 L698.77,174.50 L699.01,173.41 L699.26,172.27 L699.52,171.10 L699.78,169.88 L700.06,168.61 L700.35,167.31 L700.66,165.99 L700.97,164.68 L701.29,163.41 L701.62,162.21 L701.95,161.11 L702.29,160.13 L702.64,159.31 L702.99,158.66 L703.34,158.22 L703.69,158.01 L704.05,158.07 L704.40,158.37 L704.75,158.90 L705.10,159.63 L705.44,160.52 L705.78,161.56 L706.10,162.70 L706.42,163.94 L706.73,165.22 L707.02,166.54 L707.29,167.86 L707.55,169.15 L707.79,170.40 L708.01,171.59 L708.22,172.75 L708.41,173.87 L708.59,174.95 L708.75,175.99 L708.90,177.01 L709.04,178.00 L709.17,178.96 L709.28,179.90 L709.39,180.83 L709.49,181.73 L709.58,182.63 L709.67,183.51 L709.75,184.39 L709.82,185.27 L709.90,186.14 L709.96,187.02 L710.03,187.90 L710.09,188.79 L710.16,189.69 L710.22,190.59 L710.28,191.50 L710.34,192.42 L710.39,193.34 L710.45,194.27 L710.50,195.20 L710.56,196.14 L710.61,197.09 L710.66,198.04 L710.71,199.00 L710.76,199.96 L710.81,200.93 L710.85,201.90 L710.90,202.88 L710.94,203.86 L710.99,204.85 L711.03,205.84 L711.07,206.83 L711.11,207.83 L711.16,208.84 L711.20,209.84 L711.24,210.85 L711.28,211.87 L711.31,212.88 L711.35,213.90 L711.39,214.93 L711.43,215.95 L711.47,216.98 L711.50,218.01 L711.54,219.05 L711.58,220.08 L711.61,221.12 L711.65,222.16 L711.69,223.20 L711.72,224.24 L711.76,225.29 L711.79,226.33 L711.83,227.38 L711.87,228.43 L711.91,229.47 L711.94,230.52 L711.98,231.57 L712.02,232.62 L712.06,233.67 L712.10,234.72 L712.14,235.77 L712.18,236.82 L712.22,237.87 L712.26,238.92 L712.30,239.96 L712.34,241.01 L712.38,242.06 L712.43,243.10 L712.47,244.14 L712.52,245.19 L712.56,246.23 L712.61,247.27 L712.66,248.31 L712.70,249.34 L712.75,250.38 L712.80,251.41 L712.85,252.44 L712.89,253.47 L712.94,254.50 L712.99,255.52 L713.04,256.55 L713.09,257.57 L713.13,258.59 L713.18,259.61 L713.23,260.62 L713.28,261.63 L713.33,262.64 L713.38,263.65 L713.42,264.65 L713.47,265.66 L713.52,266.65 L713.57,267.65 L713.61,268.64 L713.66,269.63 L713.70,270.62 L713.75,271.60 L713.79,272.58 L713.84,273.56 L713.88,274.53 L713.92,275.50 L713.96,276.46 L714.00,277.43 L714.04,278.38 L714.08,279.34 L714.12,280.29 L714.16,281.23 L714.20,282.18 L714.23,283.11 L714.27,284.05 L714.30,284.98 L714.33,285.90 L714.36,286.82 L714.39,287.74 L714.42,288.66 L714.45,289.57 L714.48,290.48 L714.50,291.39 L714.53,292.30 L714.55,293.20 L714.57,294.11 L714.60,295.02 L714.62,295.93 L714.64,296.84 L714.66,297.76 L714.68,298.67 L714.69,299.59 L714.71,300.52 L714.73,301.45 L714.74,302.38 L714.76,303.32 L714.77,304.26 L714.79,305.21 L714.80,306.17 L714.81,307.14 L714.83,308.11 L714.84,309.09 L714.85,310.08 L714.86,311.08 L714.87,312.09 L714.88,313.11 L714.89,314.14 L714.90,315.19 L714.91,316.24 L714.92,317.31 L714.92,318.39 L714.93,319.48 L714.94,320.59 L714.95,321.72 L714.96,322.85 L714.96,324.01 L714.97,325.18 L714.98,326.37 L714.99,327.57 L714.99,328.79 L715.00,330.03 L715.01,331.29 L715.01,332.57 L715.02,333.86 L715.03,335.16 L715.04,336.48 L715.04,337.81 L715.05,339.15 L715.06,340.49 L715.07,341.85 L715.07,343.20 L715.08,344.56 L715.09,345.93 L715.09,347.29 L715.10,348.65 L715.11,350.01 L715.12,351.36 L715.12,352.71 L715.13,354.05 L715.14,355.37 L715.15,356.69 L715.15,358.00 L715.16,359.29 L715.17,360.57 L715.18,361.83 L715.18,363.07 L715.19,364.29 L715.20,365.49 L715.20,366.67 L715.21,367.82 L715.22,368.95 L715.23,370.04 L715.23,371.11 L715.24,372.15 L715.25,373.15 L715.26,374.12 L715.26,375.06 L715.27,375.95 L715.28,376.81 L715.29,377.63 L715.29,378.41 L715.30,379.14 L715.31,379.83 L715.32,380.47 L715.32,381.06 L715.33,381.60 L715.34,382.10 L715.35,382.54 L715.36,382.92 L715.36,383.25 L715.37,383.52 L715.38,383.73 L715.39,383.88 L715.39,383.97 L715.40,384.00 L715.41,383.96 L715.42,383.86 L715.42,383.70 L715.43,383.47 L715.44,383.19 L715.45,382.85 L715.45,382.45 L715.46,382.00 L715.47,381.50 L715.48,380.95 L715.49,380.34 L715.49,379.69 L715.50,379.00 L715.51,378.26 L715.52,377.47 L715.52,376.64 L715.53,375.78 L715.54,374.87 L715.55,373.93 L715.56,372.96 L715.57,371.94 L715.57,370.90 L715.58,369.83 L715.59,368.72 L715.60,367.59 L715.61,366.44 L715.62,365.26 L715.63,364.05 L715.64,362.83 L715.64,361.58 L715.65,360.32 L715.66,359.04 L715.67,357.74 L715.68,356.43 L715.69,355.11 L715.70,353.78 L715.71,352.44 L715.72,351.10 L715.73,349.74 L715.74,348.39 L715.75,347.02 L715.76,345.66 L715.77,344.30 L715.78,342.94 L715.80,341.59 L715.81,340.24 L715.82,338.90 L715.83,337.56 L715.84,336.24 L715.85,334.92 L715.87,333.62 L715.88,332.33 L715.89,331.06 L715.90,329.81 L715.91,328.58 L715.93,327.36 L715.94,326.16 L715.95,324.98 L715.97,323.82 L715.98,322.67 L715.99,321.54 L716.01,320.42 L716.02,319.31 L716.04,318.23 L716.05,317.15 L716.06,316.09 L716.08,315.04 L716.09,314.00 L716.11,312.97 L716.12,311.96 L716.14,310.95 L716.15,309.96 L716.17,308.97 L716.19,307.99 L716.20,307.02 L716.22,306.06 L716.23,305.10 L716.25,304.15 L716.26,303.21 L716.28,302.28 L716.30,301.34 L716.31,300.42 L716.33,299.49 L716.35,298.57 L716.36,297.65 L716.38,296.74 L716.40,295.83 L716.41,294.91 L716.43,294.00 L716.45,293.09 L716.46,292.18 L716.48,291.27 L716.50,290.35 L716.52,289.44 L716.53,288.52 L716.55,287.60 L716.57,286.67 L716.59,285.74 L716.60,284.81 L716.62,283.87 L716.64,282.93 L716.66,281.98 L716.67,281.03 L716.69,280.07 L716.71,279.11 L716.73,278.14 L716.75,277.18 L716.77,276.20 L716.79,275.22 L716.80,274.24 L716.82,273.26 L716.84,272.27 L716.86,271.28 L716.88,270.29 L716.90,269.29 L716.92,268.29 L716.95,267.29 L716.97,266.28 L716.99,265.28 L717.01,264.27 L717.03,263.26 L717.06,262.24 L717.08,261.23 L717.10,260.21 L717.13,259.19 L717.15,258.17 L717.18,257.15 L717.21,256.13 L717.23,255.11 L717.26,254.09 L717.29,253.06 L717.32,252.04 L717.34,251.01 L717.37,249.99 L717.40,248.96 L717.44,247.94 L717.47,246.91 L717.50,245.89 L717.53,244.86 L717.57,243.84 L717.60,242.82 L717.64,241.79 L717.67,240.77 L717.71,239.75 L717.75,238.73 L717.79,237.72 L717.82,236.70 L717.86,235.69 L717.91,234.67 L717.95,233.66 L717.99,232.65 L718.03,231.64 L718.07,230.63 L718.12,229.62 L718.16,228.61 L718.21,227.60 L718.25,226.60 L718.30,225.59 L718.34,224.59 L718.39,223.59 L718.44,222.58 L718.48,221.58 L718.53,220.58 L718.58,219.58 L718.62,218.58 L718.67,217.58 L718.72,216.58 L718.77,215.59 L718.82,214.59 L718.86,213.59 L718.91,212.60 L718.96,211.60 L719.01,210.60 L719.05,209.61 L719.10,208.61 L719.15,207.62 L719.20,206.62 L719.24,205.63 L719.29,204.64 L719.34,203.64 L719.38,202.65 L719.43,201.65 L719.47,200.66 L719.52,199.67 L719.56,198.67 L719.61,197.68 L719.65,196.69 L719.70,195.69 L719.74,194.70 L719.78,193.70 L719.82,192.71 L719.86,191.72 L719.90,190.72 L719.94,189.73 L719.98,188.73 L720.02,187.74 L720.06,186.74 L720.09,185.74 L720.13,184.75 L720.16,183.75 L720.19,182.75 L720.23,181.75 L720.26,180.76 L720.29,179.76 L720.32,178.76 L720.35,177.76 L720.38,176.76 L720.41,175.76 L720.44,174.76 L720.47,173.76 L720.50,172.76 L720.53,171.76 L720.56,170.75 L720.59,169.75 L720.62,168.75 L720.65,167.75 L720.68,166.75 L720.71,165.75 L720.74,164.74 L720.77,163.74 L720.80,162.74 L720.83,161.74 L720.86,160.74 L720.89,159.73 L720.93,158.73 L720.96,157.73 L721.00,156.73 L721.03,155.73 L721.07,154.73 L721.10,153.72 L721.14,152.72 L721.18,151.72 L721.22,150.72 L721.27,149.72 L721.31,148.72 L721.35,147.72 L721.40,146.72 L721.44,145.72 L721.49,144.72 L721.54,143.72 L721.59,142.72 L721.64,141.72 L721.69,140.72 L721.74,139.72 L721.80,138.72 L721.85,137.72 L721.91,136.72 L721.96,135.72 L722.02,134.72 L722.08,133.72 L722.14,132.72 L722.20,131.72 L722.26,130.72 L722.32,129.72 L722.38,128.72 L722.44,127.72 L722.50,126.73 L722.57,125.73 L722.63,124.73 L722.70,123.73 L722.77,122.73 L722.84,121.73 L722.90,120.73 L722.98,119.73 L723.05,118.74 L723.12,117.74 L723.20,116.74 L723.27,115.74 L723.35,114.74 L723.43,113.74 L723.51,112.75 L723.59,111.75 L723.68,110.75 L723.76,109.75 L723.85,108.76 L723.94,107.76 L724.03,106.76 L724.12,105.76 L724.22,104.77 L724.31,103.77 L724.41,102.77 L724.51,101.78 L724.62,100.78 L724.72,99.78 L724.83,98.79 L724.94,97.79 L725.05,96.79 L725.17,95.80 L725.28,94.80 L725.40,93.81 L725.52,92.81 L725.65,91.82 L725.77,90.83 L725.90,89.83 L726.02,88.84 L726.15,87.85 L726.28,86.86 L726.42,85.87 L726.55,84.88 L726.68,83.89 L726.82,82.90 L726.96,81.91 L727.10,80.92 L727.25,79.93 L727.40,78.95 L727.55,77.96 L727.71,76.97 L727.87,75.98 L728.04,75.00 L728.22,74.01 L728.40,73.02 L728.59,72.03 L728.79,71.04 L728.99,70.05 L729.21,69.06 L729.44,68.08 L729.69,67.10 L729.97,66.13 L730.27,65.17 L730.60,64.22 L730.97,63.29 L731.38,62.38 L731.83,61.50 L732.34,60.64 L732.89,59.80 L733.50,59.00" stroke="#800080" stroke-width="2.3" stroke-dasharray="2.2 1.97" stroke-dashoffset="0"/>
<path d="M113.30,142.00 L113.36,143.00 L113.43,144.00 L113.50,145.00 L113.57,146.00 L113.65,146.99 L113.73,147.99 L113.81,148.99 L113.90,149.99 L113.99,150.98 L114.09,151.98 L114.18,152.97 L114.28,153.97 L114.38,154.97 L114.48,155.96 L114.59,156.96 L114.69,157.95 L114.79,158.95 L114.90,159.94 L115.01,160.94 L115.11,161.93 L115.22,162.93 L115.32,163.93 L115.43,164.92 L115.53,165.92 L115.63,166.91 L115.73,167.91 L115.83,168.90 L115.93,169.90 L116.03,170.90 L116.12,171.89 L116.21,172.89 L116.29,173.89 L116.38,174.88 L116.46,175.88 L116.54,176.88 L116.62,177.88 L116.70,178.87 L116.78,179.87 L116.86,180.87 L116.93,181.87 L117.01,182.87 L117.09,183.86 L117.18,184.86 L117.26,185.86 L117.35,186.85 L117.44,187.85 L117.53,188.85 L117.63,189.85 L117.72,190.84 L117.82,191.84 L117.92,192.83 L118.02,193.83 L118.13,194.82 L118.23,195.82 L118.33,196.82 L118.44,197.81 L118.54,198.81 L118.65,199.80 L118.75,200.80 L118.86,201.79 L118.96,202.79 L119.06,203.78 L119.17,204.78 L119.27,205.77 L119.37,206.77 L119.48,207.76 L119.58,208.76 L119.68,209.75 L119.78,210.75 L119.88,211.75 L119.97,212.74 L120.07,213.74 L120.17,214.74 L120.27,215.74 L120.36,216.74 L120.46,217.73 L120.56,218.73 L120.66,219.73 L120.77,220.72 L120.87,221.72 L120.98,222.71 L121.10,223.71 L121.21,224.70 L121.33,225.69 L121.46,226.68 L121.59,227.67 L121.72,228.65 L121.86,229.64 L122.00,230.62 L122.15,231.61 L122.29,232.59 L122.44,233.58 L122.59,234.57 L122.73,235.56 L122.87,236.55 L123.01,237.55 L123.15,238.55 L123.28,239.56 L123.41,240.57 L123.53,241.58 L123.65,242.60 L123.76,243.62 L123.87,244.64 L123.97,245.65 L124.07,246.67 L124.17,247.67 L124.26,248.67 L124.35,249.66 L124.44,250.65 L124.52,251.62 L124.60,252.57 L124.68,253.52 L124.76,254.44 L124.84,255.36 L124.92,256.26 L125.01,257.17 L125.09,258.07 L125.19,258.98 L125.29,259.90 L125.40,260.84 L125.52,261.80 L125.65,262.78 L125.80,263.80 L125.96,264.85 L126.14,265.93 L126.34,267.07 L126.56,268.25 L126.79,269.48 L127.05,270.76 L127.33,272.05 L127.62,273.34 L127.92,274.58 L128.23,275.75 L128.55,276.83 L128.86,277.77 L129.17,278.56 L129.48,279.17 L129.77,279.56 L130.05,279.71 L130.32,279.60 L130.57,279.26 L130.81,278.70 L131.03,277.96 L131.25,277.06 L131.45,276.01 L131.64,274.86 L131.82,273.61 L132.00,272.30 L132.16,270.95 L132.32,269.58 L132.48,268.22 L132.63,266.89 L132.78,265.62 L132.92,264.42 L133.07,263.27 L133.21,262.18 L133.35,261.14 L133.49,260.13 L133.62,259.17 L133.76,258.22 L133.90,257.31 L134.04,256.40 L134.18,255.51 L134.32,254.63 L134.47,253.74 L134.61,252.84 L134.76,251.92 L134.91,250.99 L135.07,250.05 L135.22,249.09 L135.38,248.11 L135.53,247.13 L135.68,246.13 L135.83,245.13 L135.98,244.12 L136.12,243.11 L136.26,242.09 L136.39,241.07 L136.51,240.05 L136.62,239.03 L136.73,238.02 L136.82,237.00 L136.91,236.00 L137.00,234.99 L137.08,233.99 L137.16,232.99 L137.24,231.99 L137.32,231.00 L137.41,230.01 L137.50,229.02 L137.61,228.03 L137.72,227.04 L137.85,226.06 L137.99,225.07 L138.15,224.09 L138.32,223.10 L138.51,222.12 L138.71,221.14 L138.93,220.16 L139.15,219.18 L139.38,218.21 L139.62,217.23 L139.87,216.26 L140.12,215.29 L140.38,214.32 L140.64,213.35 L140.90,212.39 L141.15,211.43 L141.41,210.47 L141.67,209.51 L141.93,208.55 L142.19,207.60 L142.46,206.64 L142.73,205.69 L143.01,204.73 L143.30,203.78 L143.59,202.82 L143.89,201.86 L144.21,200.90 L144.53,199.93 L144.87,198.96 L145.22,197.99 L145.59,197.02 L145.99,196.06 L146.41,195.13 L146.87,194.22 L147.38,193.35 L147.94,192.53 L148.55,191.76 L149.23,191.07 L149.97,190.44 L150.78,189.88 L151.63,189.37 L152.51,188.89 L153.42,188.43 L154.33,187.98 L155.24,187.52 L156.13,187.03 L156.99,186.51 L157.81,185.93 L158.58,185.30 L159.32,184.62 L160.01,183.90 L160.67,183.14 L161.30,182.35 L161.90,181.53 L162.47,180.69 L163.03,179.84 L163.56,178.97 L164.09,178.10 L164.60,177.23 L165.11,176.36 L165.62,175.50 L166.13,174.64 L166.65,173.78 L167.17,172.94 L167.71,172.12 L168.27,171.31 L168.85,170.53 L169.44,169.75 L170.05,168.98 L170.67,168.21 L171.30,167.43 L171.95,166.65 L172.60,165.86 L173.26,165.05 L173.93,164.21 L174.60,163.37 L175.29,162.54 L175.99,161.74 L176.71,160.98 L177.44,160.29 L178.20,159.68 L178.98,159.17 L179.80,158.78 L180.64,158.52 L181.52,158.38 L182.42,158.36 L183.35,158.44 L184.30,158.60 L185.28,158.83 L186.28,159.10 L187.29,159.42 L188.32,159.75 L189.36,160.08 L190.42,160.41 L191.48,160.71 L192.55,160.97 L193.63,161.17 L194.70,161.31 L195.78,161.39 L196.84,161.41 L197.90,161.36 L198.94,161.25 L199.96,161.07 L200.95,160.83 L201.92,160.51 L202.85,160.12 L203.75,159.66 L204.60,159.12 L205.42,158.52 L206.18,157.83 L206.90,157.09 L207.60,156.34 L208.33,155.66 L209.12,155.10 L209.99,154.72 L210.93,154.52 L211.94,154.48 L212.97,154.57 L214.02,154.77 L215.06,155.07 L216.08,155.43 L217.04,155.83 L217.97,156.28 L218.86,156.75 L219.73,157.24 L220.58,157.75 L221.42,158.26 L222.26,158.77 L223.11,159.27 L223.97,159.75 L224.86,160.21 L225.77,160.64 L226.70,161.03 L227.65,161.39 L228.61,161.71 L229.58,161.98 L230.56,162.20 L231.55,162.37 L232.54,162.49 L233.53,162.55 L234.53,162.56 L235.53,162.54 L236.53,162.50 L237.53,162.44 L238.54,162.38 L239.55,162.32 L240.56,162.28 L241.57,162.25 L242.58,162.26 L243.59,162.31 L244.58,162.39 L245.57,162.53 L246.54,162.73 L247.50,162.99 L248.44,163.32 L249.37,163.69 L250.29,164.11 L251.19,164.56 L252.08,165.05 L252.96,165.55 L253.83,166.06 L254.69,166.57 L255.55,167.09 L256.40,167.60 L257.26,168.11 L258.13,168.61 L259.00,169.10 L259.88,169.58 L260.77,170.03 L261.68,170.47 L262.60,170.87 L263.54,171.25 L264.49,171.59 L265.45,171.90 L266.42,172.16 L267.40,172.37 L268.39,172.54 L269.38,172.64 L270.37,172.69 L271.37,172.70 L272.37,172.67 L273.37,172.62 L274.37,172.56 L275.38,172.50 L276.38,172.46 L277.39,172.45 L278.39,172.48 L279.40,172.54 L280.40,172.65 L281.39,172.80 L282.37,173.00 L283.35,173.23 L284.31,173.51 L285.26,173.84 L286.19,174.20 L287.11,174.61 L288.01,175.04 L288.90,175.51 L289.78,176.01 L290.64,176.53 L291.49,177.07 L292.32,177.62 L293.15,178.18 L293.99,178.74 L294.83,179.28 L295.69,179.79 L296.57,180.27 L297.47,180.70 L298.40,181.08 L299.35,181.41 L300.32,181.69 L301.30,181.92 L302.29,182.09 L303.29,182.22 L304.29,182.29 L305.29,182.32 L306.29,182.32 L307.30,182.30 L308.30,182.27 L309.30,182.25 L310.30,182.24 L311.30,182.26 L312.30,182.31 L313.30,182.42 L314.29,182.58 L315.27,182.79 L316.25,183.06 L317.20,183.37 L318.14,183.73 L319.06,184.14 L319.96,184.59 L320.83,185.07 L321.69,185.59 L322.53,186.12 L323.37,186.67 L324.20,187.23 L325.04,187.78 L325.88,188.32 L326.74,188.84 L327.61,189.34 L328.51,189.80 L329.42,190.23 L330.35,190.62 L331.30,190.97 L332.25,191.29 L333.22,191.56 L334.20,191.79 L335.18,191.97 L336.17,192.11 L337.16,192.20 L338.16,192.27 L339.16,192.31 L340.16,192.34 L341.17,192.35 L342.17,192.37 L343.17,192.39 L344.17,192.43 L345.18,192.49 L346.17,192.58 L347.17,192.71 L348.16,192.87 L349.14,193.07 L350.12,193.30 L351.09,193.56 L352.05,193.85 L353.00,194.17 L353.94,194.52 L354.87,194.89 L355.79,195.29 L356.70,195.70 L357.61,196.13 L358.51,196.56 L359.41,196.99 L360.31,197.43 L361.22,197.86 L362.13,198.28 L363.05,198.68 L363.98,199.07 L364.91,199.44 L365.85,199.79 L366.80,200.11 L367.76,200.41 L368.72,200.68 L369.69,200.93 L370.66,201.14 L371.64,201.32 L372.62,201.48 L373.61,201.61 L374.61,201.72 L375.60,201.82 L376.60,201.90 L377.61,201.97 L378.61,202.03 L379.62,202.08 L380.64,202.13 L381.65,202.19 L382.66,202.26 L383.67,202.34 L384.66,202.46 L385.65,202.60 L386.63,202.79 L387.59,203.02 L388.53,203.31 L389.46,203.65 L390.37,204.04 L391.27,204.47 L392.16,204.92 L393.05,205.39 L393.94,205.88 L394.83,206.36 L395.73,206.84 L396.64,207.30 L397.55,207.74 L398.48,208.16 L399.41,208.54 L400.36,208.89 L401.31,209.20 L402.27,209.47 L403.24,209.69 L404.21,209.85 L405.20,209.96 L406.19,210.02 L407.18,210.05 L408.18,210.05 L409.18,210.02 L410.19,209.98 L411.20,209.95 L412.20,209.91 L413.21,209.89 L414.22,209.89 L415.23,209.93 L416.24,210.00 L417.24,210.10 L418.24,210.24 L419.23,210.41 L420.21,210.62 L421.19,210.86 L422.15,211.14 L423.11,211.44 L424.05,211.78 L424.98,212.15 L425.89,212.55 L426.80,212.97 L427.71,213.39 L428.61,213.82 L429.51,214.25 L430.42,214.67 L431.34,215.07 L432.28,215.45 L433.22,215.81 L434.18,216.13 L435.15,216.41 L436.12,216.66 L437.11,216.87 L438.10,217.04 L439.09,217.16 L440.08,217.23 L441.08,217.25 L442.08,217.23 L443.08,217.19 L444.07,217.12 L445.07,217.04 L446.07,216.95 L447.08,216.88 L448.08,216.82 L449.08,216.79 L450.08,216.79 L451.09,216.84 L452.09,216.92 L453.09,217.04 L454.08,217.19 L455.07,217.38 L456.05,217.60 L457.02,217.86 L457.97,218.16 L458.92,218.48 L459.86,218.82 L460.79,219.19 L461.72,219.57 L462.64,219.95 L463.57,220.34 L464.49,220.73 L465.42,221.11 L466.35,221.48 L467.29,221.83 L468.23,222.16 L469.18,222.48 L470.14,222.78 L471.10,223.05 L472.07,223.30 L473.05,223.53 L474.04,223.72 L475.03,223.89 L476.03,224.01 L477.04,224.09 L478.04,224.13 L479.04,224.10 L480.04,224.02 L481.03,223.87 L482.02,223.68 L483.01,223.45 L483.99,223.21 L484.97,222.98 L485.95,222.76 L486.93,222.59 L487.91,222.47 L488.90,222.42 L489.88,222.45 L490.87,222.57 L491.85,222.74 L492.83,222.98 L493.81,223.27 L494.78,223.59 L495.74,223.95 L496.68,224.33 L497.62,224.72 L498.54,225.13 L499.46,225.53 L500.38,225.93 L501.30,226.32 L502.22,226.69 L503.15,227.04 L504.09,227.37 L505.05,227.66 L506.03,227.91 L507.02,228.12 L508.02,228.28 L509.02,228.40 L510.03,228.46 L511.04,228.48 L512.04,228.43 L513.03,228.33 L514.01,228.16 L514.99,227.96 L515.96,227.72 L516.93,227.47 L517.90,227.21 L518.88,226.97 L519.86,226.75 L520.85,226.58 L521.85,226.44 L522.85,226.36 L523.85,226.33 L524.85,226.36 L525.85,226.46 L526.83,226.61 L527.81,226.83 L528.77,227.09 L529.73,227.40 L530.67,227.76 L531.61,228.15 L532.53,228.57 L533.45,229.02 L534.35,229.49 L535.24,229.97 L536.14,230.45 L537.03,230.92 L537.93,231.36 L538.84,231.77 L539.76,232.14 L540.70,232.45 L541.66,232.69 L542.64,232.86 L543.64,232.96 L544.65,232.98 L545.67,232.94 L546.68,232.82 L547.68,232.64 L548.67,232.39 L549.64,232.09 L550.61,231.74 L551.56,231.38 L552.51,231.02 L553.46,230.67 L554.41,230.36 L555.36,230.10 L556.32,229.91 L557.29,229.82 L558.27,229.82 L559.26,229.92 L560.24,230.11 L561.23,230.38 L562.20,230.71 L563.15,231.10 L564.08,231.52 L564.98,231.99 L565.87,232.47 L566.73,232.97 L567.59,233.48 L568.45,233.99 L569.31,234.49 L570.18,234.97 L571.07,235.43 L571.98,235.84 L572.93,236.22 L573.90,236.54 L574.88,236.81 L575.88,237.00 L576.88,237.12 L577.88,237.16 L578.86,237.11 L579.83,236.96 L580.79,236.74 L581.74,236.44 L582.67,236.08 L583.60,235.67 L584.52,235.22 L585.43,234.76 L586.35,234.28 L587.27,233.80 L588.19,233.33 L589.12,232.90 L590.05,232.51 L591.00,232.18 L591.96,231.94 L592.93,231.79 L593.92,231.76 L594.93,231.84 L595.93,232.02 L596.91,232.29 L597.86,232.65 L598.77,233.08 L599.64,233.58 L600.45,234.13 L601.24,234.72 L602.00,235.35 L602.75,236.01 L603.50,236.69 L604.25,237.38 L605.02,238.07 L605.82,238.76 L606.64,239.42 L607.50,240.04 L608.37,240.60 L609.28,241.08 L610.20,241.45 L611.14,241.70 L612.10,241.80 L613.07,241.75 L614.04,241.55 L615.00,241.23 L615.95,240.81 L616.87,240.30 L617.75,239.72 L618.57,239.09 L619.34,238.43 L620.06,237.74 L620.75,237.03 L621.42,236.31 L622.08,235.58 L622.76,234.84 L623.46,234.11 L624.21,233.38 L625.01,232.67 L625.85,232.01 L626.74,231.45 L627.65,231.01 L628.58,230.74 L629.52,230.67 L630.47,230.82 L631.41,231.15 L632.32,231.63 L633.20,232.23 L634.02,232.91 L634.78,233.64 L635.47,234.39 L636.09,235.15 L636.66,235.93 L637.18,236.74 L637.67,237.57 L638.13,238.43 L638.59,239.32 L639.04,240.24 L639.49,241.20 L639.97,242.19 L640.48,243.22 L641.01,244.27 L641.59,245.29 L642.19,246.27 L642.84,247.18 L643.53,247.98 L644.26,248.64 L645.04,249.14 L645.87,249.45 L646.75,249.54 L647.67,249.38 L648.61,249.02 L649.52,248.49 L650.37,247.83 L651.12,247.09 L651.77,246.29 L652.33,245.44 L652.80,244.55 L653.20,243.62 L653.55,242.66 L653.84,241.69 L654.10,240.71 L654.35,239.72 L654.58,238.75 L654.81,237.78 L655.05,236.84 L655.31,235.92 L655.58,235.00 L655.88,234.10 L656.20,233.20 L656.56,232.31 L656.95,231.42 L657.37,230.52 L657.85,229.62 L658.36,228.71 L658.93,227.78 L659.56,226.84 L660.24,225.88 L660.98,224.93 L661.76,224.05 L662.57,223.30 L663.38,222.77 L664.19,222.50 L664.98,222.58 L665.74,223.00 L666.45,223.70 L667.10,224.59 L667.69,225.59 L668.20,226.63 L668.64,227.65 L669.01,228.65 L669.31,229.64 L669.57,230.63 L669.78,231.60 L669.96,232.57 L670.11,233.53 L670.24,234.49 L670.36,235.44 L670.48,236.40 L670.60,237.36 L670.75,238.32 L670.91,239.29 L671.10,240.27 L671.32,241.25 L671.55,242.23 L671.80,243.22 L672.06,244.20 L672.34,245.18 L672.63,246.16 L672.92,247.13 L673.21,248.09 L673.51,249.04 L673.80,249.99 L674.09,250.92 L674.37,251.84 L674.64,252.74 L674.91,253.63 L675.16,254.52 L675.41,255.40 L675.65,256.29 L675.89,257.18 L676.12,258.07 L676.34,258.98 L676.57,259.91 L676.78,260.85 L677.00,261.82 L677.21,262.81 L677.42,263.84 L677.62,264.89 L677.83,265.99 L678.04,267.13 L678.25,268.31 L678.45,269.54 L678.66,270.82 L678.88,272.12 L679.09,273.45 L679.31,274.78 L679.52,276.10 L679.74,277.41 L679.96,278.68 L680.19,279.91 L680.41,281.08 L680.64,282.18 L680.87,283.21 L681.11,284.13 L681.35,284.95 L681.59,285.65 L681.83,286.22 L682.08,286.64 L682.33,286.91 L682.58,287.00 L682.84,286.92 L683.10,286.66 L683.36,286.24 L683.63,285.68 L683.89,284.99 L684.16,284.17 L684.42,283.25 L684.68,282.22 L684.95,281.12 L685.20,279.94 L685.46,278.71 L685.71,277.43 L685.95,276.12 L686.19,274.79 L686.43,273.45 L686.65,272.11 L686.87,270.80 L687.08,269.51 L687.28,268.26 L687.47,267.04 L687.66,265.86 L687.83,264.71 L688.00,263.59 L688.16,262.50 L688.32,261.44 L688.46,260.40 L688.61,259.38 L688.74,258.39 L688.88,257.41 L689.00,256.45 L689.13,255.51 L689.25,254.58 L689.36,253.66 L689.48,252.75 L689.59,251.85 L689.69,250.96 L689.80,250.07 L689.90,249.19 L690.01,248.31 L690.11,247.42 L690.21,246.53 L690.31,245.64 L690.41,244.75 L690.52,243.84 L690.62,242.93 L690.73,242.01 L690.83,241.07 L690.94,240.14 L691.05,239.19 L691.16,238.23 L691.26,237.27 L691.37,236.30 L691.48,235.32 L691.59,234.34 L691.70,233.35 L691.80,232.36 L691.91,231.36 L692.02,230.35 L692.13,229.34 L692.23,228.32 L692.34,227.30 L692.44,226.28 L692.54,225.25 L692.64,224.22 L692.74,223.19 L692.84,222.15 L692.94,221.12 L693.03,220.08 L693.13,219.03 L693.22,217.99 L693.30,216.95 L693.39,215.90 L693.48,214.85 L693.56,213.81 L693.64,212.76 L693.72,211.72 L693.80,210.68 L693.88,209.64 L693.96,208.60 L694.04,207.56 L694.12,206.53 L694.20,205.50 L694.29,204.48 L694.37,203.46 L694.46,202.45 L694.55,201.44 L694.64,200.44 L694.74,199.44 L694.84,198.45 L694.94,197.47 L695.05,196.50 L695.16,195.53 L695.27,194.58 L695.40,193.63 L695.52,192.70 L695.66,191.77 L695.79,190.85 L695.94,189.95 L696.09,189.06 L696.25,188.17 L696.41,187.30 L696.59,186.43 L696.77,185.57 L696.96,184.70 L697.15,183.82 L697.36,182.93 L697.57,182.03 L697.79,181.11 L698.01,180.17 L698.25,179.20 L698.49,178.20 L698.74,177.17 L699.00,176.10 L699.27,174.99 L699.54,173.84 L699.83,172.63 L700.12,171.38 L700.42,170.08 L700.73,168.76 L701.05,167.47 L701.37,166.21 L701.70,165.02 L702.03,163.94 L702.37,162.98 L702.72,162.18 L703.06,161.56 L703.41,161.16 L703.76,161.00 L704.11,161.11 L704.46,161.46 L704.81,162.03 L705.15,162.80 L705.49,163.72 L705.83,164.79 L706.15,165.95 L706.47,167.20 L706.77,168.49 L707.06,169.80 L707.34,171.11 L707.60,172.37 L707.84,173.59 L708.07,174.75 L708.28,175.87 L708.48,176.94 L708.66,177.98 L708.83,178.98 L708.99,179.96 L709.14,180.91 L709.28,181.83 L709.41,182.74 L709.54,183.63 L709.65,184.51 L709.76,185.39 L709.86,186.27 L709.96,187.14 L710.06,188.02 L710.15,188.91 L710.23,189.81 L710.32,190.71 L710.40,191.62 L710.48,192.54 L710.55,193.46 L710.62,194.39 L710.69,195.33 L710.76,196.27 L710.82,197.22 L710.88,198.17 L710.94,199.13 L711.00,200.09 L711.05,201.06 L711.10,202.03 L711.15,203.01 L711.20,204.00 L711.25,204.98 L711.29,205.98 L711.33,206.97 L711.37,207.97 L711.41,208.98 L711.45,209.99 L711.48,211.00 L711.52,212.01 L711.55,213.03 L711.58,214.05 L711.62,215.08 L711.65,216.10 L711.68,217.13 L711.71,218.16 L711.73,219.20 L711.76,220.23 L711.79,221.27 L711.82,222.31 L711.84,223.35 L711.87,224.39 L711.89,225.44 L711.92,226.48 L711.95,227.53 L711.97,228.58 L712.00,229.62 L712.03,230.67 L712.05,231.72 L712.08,232.77 L712.11,233.81 L712.14,234.86 L712.17,235.91 L712.20,236.96 L712.24,238.00 L712.27,239.05 L712.30,240.09 L712.34,241.13 L712.38,242.18 L712.41,243.22 L712.45,244.26 L712.49,245.29 L712.53,246.33 L712.58,247.36 L712.62,248.40 L712.66,249.43 L712.71,250.46 L712.75,251.49 L712.80,252.51 L712.85,253.54 L712.89,254.56 L712.94,255.58 L712.99,256.60 L713.04,257.62 L713.08,258.63 L713.13,259.64 L713.18,260.66 L713.23,261.66 L713.28,262.67 L713.33,263.67 L713.38,264.68 L713.43,265.67 L713.48,266.67 L713.53,267.67 L713.57,268.66 L713.62,269.65 L713.67,270.63 L713.72,271.62 L713.76,272.60 L713.81,273.58 L713.86,274.55 L713.90,275.52 L713.95,276.49 L713.99,277.46 L714.03,278.42 L714.07,279.38 L714.11,280.34 L714.15,281.29 L714.19,282.24 L714.23,283.19 L714.27,284.14 L714.30,285.08 L714.34,286.01 L714.37,286.95 L714.40,287.88 L714.43,288.81 L714.46,289.74 L714.49,290.66 L714.52,291.59 L714.54,292.51 L714.57,293.44 L714.59,294.36 L714.61,295.29 L714.64,296.22 L714.66,297.14 L714.68,298.08 L714.70,299.01 L714.71,299.94 L714.73,300.88 L714.75,301.82 L714.76,302.77 L714.78,303.72 L714.79,304.68 L714.81,305.64 L714.82,306.60 L714.83,307.58 L714.85,308.56 L714.86,309.54 L714.87,310.54 L714.88,311.54 L714.89,312.55 L714.90,313.56 L714.91,314.59 L714.91,315.63 L714.92,316.67 L714.93,317.73 L714.94,318.80 L714.94,319.87 L714.95,320.96 L714.96,322.06 L714.96,323.18 L714.97,324.30 L714.98,325.44 L714.98,326.59 L714.99,327.76 L714.99,328.94 L715.00,330.14 L715.01,331.35 L715.01,332.57 L715.02,333.81 L715.02,335.06 L715.03,336.33 L715.04,337.60 L715.04,338.89 L715.05,340.18 L715.05,341.48 L715.06,342.79 L715.06,344.11 L715.07,345.44 L715.07,346.77 L715.08,348.11 L715.09,349.45 L715.09,350.79 L715.10,352.14 L715.10,353.49 L715.11,354.84 L715.11,356.19 L715.12,357.54 L715.12,358.89 L715.13,360.24 L715.14,361.59 L715.14,362.93 L715.15,364.27 L715.15,365.60 L715.16,366.93 L715.16,368.25 L715.17,369.57 L715.17,370.88 L715.18,372.17 L715.18,373.46 L715.19,374.74 L715.19,376.01 L715.20,377.27 L715.20,378.51 L715.21,379.74 L715.21,380.96 L715.22,382.16 L715.22,383.35 L715.23,384.52 L715.23,385.68 L715.24,386.81 L715.24,387.93 L715.25,389.03 L715.25,390.11 L715.26,391.16 L715.26,392.20 L715.27,393.22 L715.27,394.21 L715.28,395.17 L715.28,396.12 L715.29,397.03 L715.29,397.92 L715.30,398.79 L715.30,399.62 L715.31,400.43 L715.31,401.21 L715.32,401.96 L715.32,402.68 L715.33,403.37 L715.33,404.02 L715.33,404.64 L715.34,405.23 L715.34,405.78 L715.35,406.30 L715.35,406.79 L715.36,407.23 L715.36,407.64 L715.37,408.01 L715.37,408.34 L715.37,408.63 L715.38,408.88 L715.38,409.09 L715.39,409.26 L715.39,409.38 L715.39,409.46 L715.40,409.50 L715.40,409.49 L715.41,409.44 L715.41,409.34 L715.41,409.20 L715.42,409.01 L715.42,408.79 L715.43,408.52 L715.43,408.21 L715.43,407.87 L715.44,407.48 L715.44,407.06 L715.45,406.60 L715.45,406.10 L715.45,405.57 L715.46,405.00 L715.46,404.40 L715.47,403.76 L715.47,403.10 L715.47,402.40 L715.48,401.66 L715.48,400.90 L715.49,400.11 L715.49,399.29 L715.50,398.45 L715.50,397.57 L715.50,396.67 L715.51,395.74 L715.51,394.79 L715.52,393.81 L715.52,392.81 L715.53,391.79 L715.53,390.74 L715.54,389.68 L715.54,388.59 L715.55,387.48 L715.55,386.36 L715.56,385.22 L715.56,384.06 L715.57,382.88 L715.57,381.68 L715.58,380.48 L715.58,379.25 L715.59,378.02 L715.59,376.77 L715.60,375.51 L715.61,374.23 L715.61,372.95 L715.62,371.66 L715.63,370.36 L715.63,369.05 L715.64,367.73 L715.65,366.41 L715.65,365.08 L715.66,363.74 L715.67,362.40 L715.67,361.06 L715.68,359.71 L715.69,358.36 L715.70,357.01 L715.70,355.66 L715.71,354.31 L715.72,352.96 L715.73,351.62 L715.74,350.27 L715.75,348.93 L715.76,347.59 L715.77,346.26 L715.77,344.93 L715.78,343.61 L715.79,342.29 L715.80,340.99 L715.81,339.69 L715.82,338.40 L715.84,337.12 L715.85,335.85 L715.86,334.60 L715.87,333.35 L715.88,332.12 L715.89,330.90 L715.90,329.70 L715.92,328.51 L715.93,327.34 L715.94,326.18 L715.95,325.04 L715.97,323.91 L715.98,322.79 L715.99,321.68 L716.01,320.59 L716.02,319.51 L716.03,318.44 L716.05,317.38 L716.06,316.33 L716.08,315.29 L716.09,314.26 L716.11,313.24 L716.12,312.23 L716.14,311.22 L716.15,310.23 L716.17,309.24 L716.18,308.26 L716.20,307.28 L716.21,306.32 L716.23,305.35 L716.25,304.39 L716.26,303.44 L716.28,302.49 L716.29,301.55 L716.31,300.61 L716.33,299.67 L716.34,298.73 L716.36,297.80 L716.38,296.87 L716.40,295.94 L716.41,295.01 L716.43,294.08 L716.45,293.15 L716.46,292.22 L716.48,291.30 L716.50,290.36 L716.52,289.43 L716.53,288.50 L716.55,287.56 L716.57,286.62 L716.59,285.68 L716.61,284.73 L716.62,283.78 L716.64,282.83 L716.66,281.87 L716.68,280.91 L716.69,279.94 L716.71,278.97 L716.73,278.00 L716.75,277.02 L716.77,276.05 L716.79,275.06 L716.81,274.08 L716.83,273.09 L716.85,272.10 L716.87,271.11 L716.89,270.11 L716.91,269.12 L716.93,268.12 L716.95,267.12 L716.97,266.11 L716.99,265.11 L717.01,264.10 L717.04,263.09 L717.06,262.08 L717.08,261.07 L717.11,260.05 L717.13,259.04 L717.16,258.02 L717.18,257.01 L717.21,255.99 L717.24,254.97 L717.26,253.95 L717.29,252.93 L717.32,251.91 L717.35,250.89 L717.38,249.87 L717.41,248.85 L717.44,247.83 L717.47,246.81 L717.50,245.79 L717.53,244.77 L717.57,243.76 L717.60,242.74 L717.64,241.72 L717.67,240.70 L717.71,239.69 L717.75,238.67 L717.79,237.66 L717.83,236.65 L717.87,235.64 L717.91,234.62 L717.95,233.61 L717.99,232.61 L718.03,231.60 L718.08,230.59 L718.12,229.58 L718.16,228.58 L718.21,227.57 L718.25,226.57 L718.30,225.57 L718.35,224.56 L718.39,223.56 L718.44,222.56 L718.48,221.56 L718.53,220.56 L718.58,219.56 L718.63,218.56 L718.67,217.56 L718.72,216.56 L718.77,215.56 L718.82,214.56 L718.87,213.57 L718.91,212.57 L718.96,211.57 L719.01,210.58 L719.06,209.58 L719.10,208.59 L719.15,207.59 L719.20,206.60 L719.25,205.60 L719.29,204.61 L719.34,203.61 L719.39,202.62 L719.43,201.62 L719.48,200.63 L719.52,199.63 L719.57,198.64 L719.61,197.64 L719.65,196.65 L719.70,195.65 L719.74,194.66 L719.78,193.66 L719.82,192.67 L719.86,191.67 L719.90,190.68 L719.94,189.68 L719.98,188.69 L720.02,187.69 L720.06,186.69 L720.09,185.70 L720.13,184.70 L720.16,183.70 L720.20,182.71 L720.23,181.71 L720.26,180.71 L720.29,179.71 L720.32,178.71 L720.35,177.71 L720.39,176.71 L720.41,175.71 L720.44,174.71 L720.47,173.71 L720.50,172.71 L720.53,171.71 L720.56,170.71 L720.59,169.71 L720.62,168.71 L720.65,167.71 L720.68,166.71 L720.71,165.71 L720.74,164.70 L720.77,163.70 L720.80,162.70 L720.83,161.70 L720.86,160.70 L720.89,159.70 L720.93,158.70 L720.96,157.69 L721.00,156.69 L721.03,155.69 L721.07,154.69 L721.11,153.69 L721.14,152.69 L721.18,151.69 L721.23,150.69 L721.27,149.69 L721.31,148.69 L721.35,147.69 L721.40,146.69 L721.45,145.69 L721.49,144.69 L721.54,143.69 L721.59,142.69 L721.64,141.69 L721.69,140.69 L721.75,139.69 L721.80,138.69 L721.85,137.69 L721.91,136.69 L721.96,135.69 L722.02,134.69 L722.08,133.69 L722.14,132.69 L722.20,131.69 L722.26,130.70 L722.32,129.70 L722.38,128.70 L722.44,127.70 L722.51,126.70 L722.57,125.70 L722.64,124.70 L722.70,123.71 L722.77,122.71 L722.84,121.71 L722.91,120.71 L722.98,119.71 L723.05,118.71 L723.12,117.72 L723.20,116.72 L723.27,115.72 L723.35,114.72 L723.43,113.72 L723.51,112.73 L723.59,111.73 L723.68,110.73 L723.76,109.73 L723.85,108.74 L723.94,107.74 L724.03,106.74 L724.12,105.75 L724.22,104.75 L724.32,103.75 L724.41,102.76 L724.52,101.76 L724.62,100.76 L724.72,99.77 L724.83,98.77 L724.94,97.78 L725.06,96.78 L725.17,95.79 L725.29,94.79 L725.40,93.80 L725.52,92.80 L725.65,91.81 L725.77,90.81 L725.90,89.82 L726.02,88.83 L726.15,87.84 L726.28,86.85 L726.42,85.86 L726.55,84.87 L726.69,83.88 L726.82,82.89 L726.96,81.90 L727.10,80.91 L727.25,79.93 L727.40,78.94 L727.55,77.95 L727.71,76.97 L727.87,75.98 L728.04,74.99 L728.22,74.00 L728.40,73.02 L728.59,72.03 L728.79,71.04 L729.00,70.05 L729.21,69.06 L729.44,68.07 L729.70,67.09 L729.97,66.12 L730.27,65.16 L730.60,64.22 L730.97,63.29 L731.38,62.38 L731.84,61.50 L732.34,60.63 L732.89,59.80 L733.50,59.00" stroke="#0000ff" stroke-width="2.9" stroke-dasharray="8.8 7.9 2.4 8.3" stroke-dashoffset="14.45"/>
</g>
<rect x="113.2" y="51.9" width="620.15" height="383.40000000000003" fill="none" stroke="#262626" stroke-width="1.45"/>
<path d="M190.72,435.3 v-7.5 M268.24,435.3 v-7.5 M345.76,435.3 v-7.5 M423.27,435.3 v-7.5 M500.79,435.3 v-7.5 M578.31,435.3 v-7.5 M655.83,435.3 v-7.5 M113.2,179.70 h7.5 M113.2,307.50 h7.5" stroke="#262626" stroke-width="1.1" fill="none"/>
<g opacity="0.999">
<text transform="translate(113.20,467.80) scale(1,1.03)" font-size="29.5" text-anchor="middle">20</text>
<text transform="translate(190.72,467.80) scale(1,1.03)" font-size="29.5" text-anchor="middle">40</text>
<text transform="translate(268.24,467.80) scale(1,1.03)" font-size="29.5" text-anchor="middle">60</text>
<text transform="translate(345.76,467.80) scale(1,1.03)" font-size="29.5" text-anchor="middle">80</text>
<text transform="translate(423.27,467.80) scale(1,1.03)" font-size="29.5" text-anchor="middle">100</text>
<text transform="translate(500.79,467.80) scale(1,1.03)" font-size="29.5" text-anchor="middle">120</text>
<text transform="translate(578.31,467.80) scale(1,1.03)" font-size="29.5" text-anchor="middle">140</text>
<text transform="translate(655.83,467.80) scale(1,1.03)" font-size="29.5" text-anchor="middle">160</text>
<text transform="translate(733.35,467.80) scale(1,1.03)" font-size="29.5" text-anchor="middle">180</text>
<text transform="translate(106.50,62.20) scale(1,1.03)" font-size="29.5" text-anchor="end">0.5</text>
<text transform="translate(106.50,190.00) scale(1,1.03)" font-size="29.5" text-anchor="end">0.5</text>
<text transform="translate(51.00,192.70) scale(1,1.03)" font-size="29.5" text-anchor="start">−</text>
<text transform="translate(106.50,317.80) scale(1,1.03)" font-size="29.5" text-anchor="end">1.5</text>
<text transform="translate(51.00,320.50) scale(1,1.03)" font-size="29.5" text-anchor="start">−</text>
<text transform="translate(106.50,445.60) scale(1,1.03)" font-size="29.5" text-anchor="end">2.5</text>
<text transform="translate(51.00,448.30) scale(1,1.03)" font-size="29.5" text-anchor="start">−</text>
<text transform="translate(182.40,227.90) scale(1,1.03)" font-size="22.6" text-anchor="end">0.45</text>
<text transform="translate(182.40,321.30) scale(1,1.03)" font-size="22.6" text-anchor="end">0.4</text>
<text transform="translate(182.40,412.90) scale(1,1.03)" font-size="22.6" text-anchor="end">0.35</text>
<text transform="translate(190.20,433.40) scale(1,1.03)" font-size="22.6" text-anchor="middle">179</text>
<text transform="translate(489.60,433.40) scale(1,1.03)" font-size="22.6" text-anchor="middle">180</text>
<text transform="translate(423.20,26.30) scale(1,1.03)" font-size="29.5" text-anchor="middle"><tspan class="i">a</tspan><tspan dy="3.4"> = </tspan><tspan dy="-3.4">0.4, </tspan><tspan class="i">Q</tspan><tspan dy="3.4"> = </tspan><tspan dy="-3.4">0.9, </tspan><tspan class="i">q</tspan><tspan dy="3.4"> = </tspan><tspan dy="-3.4">1.8, </tspan><tspan class="i">μ</tspan><tspan dy="3.4"> = </tspan><tspan dy="-3.4">0.4, </tspan><tspan class="i">ω</tspan><tspan dy="3.4"> = </tspan><tspan dy="-3.4">1</tspan></text>
<text transform="translate(423.40,514.70) scale(1,1.03)" font-size="29.5" text-anchor="middle"><tspan class="i">θ</tspan> (deg)</text>
<g transform="translate(28.3,339.1) rotate(-90)">
<text font-size="32.3"><tspan x="0" y="0">Log</tspan><tspan x="50.6" y="8.0" font-size="22.5">10</tspan><tspan x="81.5" y="-1.2" font-size="27.6">(</tspan><tspan x="90.3" y="0">d</tspan><tspan x="106.6" y="0" class="i">σ</tspan><tspan x="127.6" y="0">/</tspan><tspan x="136.8" y="0">d</tspan><tspan x="152.5" y="0" font-size="29">Ω</tspan><tspan x="174.1" y="-1.2" font-size="27.6">)</tspan></text>
<path d="M78.3,-20.3 V4.5 M186.3,-20.3 V4.5" stroke="#000" stroke-width="1.7" fill="none"/>
</g>
<path d="M322.0,71.3 H406.0" stroke="#000000" stroke-width="1.35" fill="none"/>
<path d="M325.0,118.6 H400.0" stroke="#ff0000" stroke-width="2.3" fill="none" stroke-dasharray="11 10" stroke-dashoffset="0"/>
<path d="M323.3,165.3 H400.0" stroke="#00f600" stroke-width="2.3" fill="none" stroke-dasharray="8.7 8.1" stroke-dashoffset="0"/>
<path d="M527.0,71.3 H608.9" stroke="#ff8000" stroke-width="2.3" fill="none" stroke-dasharray="4.4 4" stroke-dashoffset="2.4"/>
<path d="M529.0,118.19999999999999 H608.9" stroke="#800080" stroke-width="2.3" fill="none" stroke-dasharray="2.2 1.97" stroke-dashoffset="0"/>
<path d="M527.3,165.3 H601.2" stroke="#0000ff" stroke-width="2.9" fill="none" stroke-dasharray="2.4 8.3 8.8 7.9" stroke-dashoffset="0"/>
<text transform="translate(418.90,78.60) scale(1,1.03)" font-size="29.5" text-anchor="start"><tspan class="i">k</tspan><tspan dx="8.4" dy="3.4">=</tspan><tspan dx="8.0" dy="-3.4">0.5</tspan></text>
<text transform="translate(418.90,125.00) scale(1,1.03)" font-size="29.5" text-anchor="start"><tspan class="i">k</tspan><tspan dx="8.4" dy="3.4">=</tspan><tspan dx="8.0" dy="-3.4">0.6</tspan></text>
<text transform="translate(418.90,171.70) scale(1,1.03)" font-size="29.5" text-anchor="start"><tspan class="i">k</tspan><tspan dx="8.4" dy="3.4">=</tspan><tspan dx="8.0" dy="-3.4">0.7</tspan></text>
<text transform="translate(622.60,78.60) scale(1,1.03)" font-size="29.5" text-anchor="start"><tspan class="i">k</tspan><tspan dx="8.4" dy="3.4">=</tspan><tspan dx="8.0" dy="-3.4">0.8</tspan></text>
<text transform="translate(622.60,125.00) scale(1,1.03)" font-size="29.5" text-anchor="start"><tspan class="i">k</tspan><tspan dx="8.4" dy="3.4">=</tspan><tspan dx="8.0" dy="-3.4">0.9</tspan></text>
<text transform="translate(622.60,171.70) scale(1,1.03)" font-size="29.5" text-anchor="start"><tspan class="i">k</tspan><tspan dx="8.4" dy="3.4">=</tspan><tspan dx="8.0" dy="-3.4">1</tspan></text>
</g>
</svg></body></html>
